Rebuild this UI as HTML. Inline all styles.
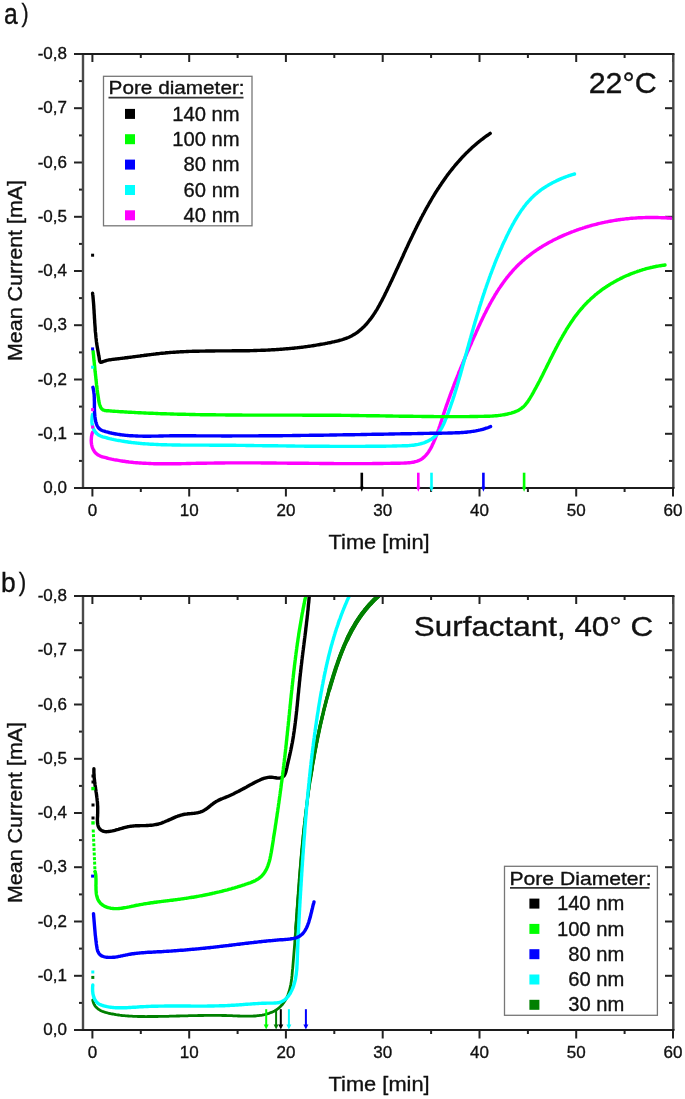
<!DOCTYPE html>
<html><head><meta charset="utf-8"><style>
html,body{margin:0;padding:0;background:#fff;}
svg{display:block;will-change:transform;}
text{font-family:"Liberation Sans",sans-serif;fill:#111;stroke:#111;stroke-width:0.35px;}
</style></head><body>
<svg width="685" height="1099" viewBox="0 0 685 1099">
<rect width="685" height="1099" fill="#fff"/>
<line x1="74" y1="488.0" x2="83" y2="488.0" stroke="#222" stroke-width="2"/>
<line x1="673" y1="488.0" x2="665" y2="488.0" stroke="#222" stroke-width="2"/>
<line x1="79" y1="460.9" x2="83" y2="460.9" stroke="#222" stroke-width="2"/>
<line x1="673" y1="460.9" x2="669" y2="460.9" stroke="#222" stroke-width="2"/>
<line x1="74" y1="433.8" x2="83" y2="433.8" stroke="#222" stroke-width="2"/>
<line x1="673" y1="433.8" x2="665" y2="433.8" stroke="#222" stroke-width="2"/>
<line x1="79" y1="406.6" x2="83" y2="406.6" stroke="#222" stroke-width="2"/>
<line x1="673" y1="406.6" x2="669" y2="406.6" stroke="#222" stroke-width="2"/>
<line x1="74" y1="379.5" x2="83" y2="379.5" stroke="#222" stroke-width="2"/>
<line x1="673" y1="379.5" x2="665" y2="379.5" stroke="#222" stroke-width="2"/>
<line x1="79" y1="352.4" x2="83" y2="352.4" stroke="#222" stroke-width="2"/>
<line x1="673" y1="352.4" x2="669" y2="352.4" stroke="#222" stroke-width="2"/>
<line x1="74" y1="325.2" x2="83" y2="325.2" stroke="#222" stroke-width="2"/>
<line x1="673" y1="325.2" x2="665" y2="325.2" stroke="#222" stroke-width="2"/>
<line x1="79" y1="298.1" x2="83" y2="298.1" stroke="#222" stroke-width="2"/>
<line x1="673" y1="298.1" x2="669" y2="298.1" stroke="#222" stroke-width="2"/>
<line x1="74" y1="271.0" x2="83" y2="271.0" stroke="#222" stroke-width="2"/>
<line x1="673" y1="271.0" x2="665" y2="271.0" stroke="#222" stroke-width="2"/>
<line x1="79" y1="243.9" x2="83" y2="243.9" stroke="#222" stroke-width="2"/>
<line x1="673" y1="243.9" x2="669" y2="243.9" stroke="#222" stroke-width="2"/>
<line x1="74" y1="216.8" x2="83" y2="216.8" stroke="#222" stroke-width="2"/>
<line x1="673" y1="216.8" x2="665" y2="216.8" stroke="#222" stroke-width="2"/>
<line x1="79" y1="189.6" x2="83" y2="189.6" stroke="#222" stroke-width="2"/>
<line x1="673" y1="189.6" x2="669" y2="189.6" stroke="#222" stroke-width="2"/>
<line x1="74" y1="162.5" x2="83" y2="162.5" stroke="#222" stroke-width="2"/>
<line x1="673" y1="162.5" x2="665" y2="162.5" stroke="#222" stroke-width="2"/>
<line x1="79" y1="135.4" x2="83" y2="135.4" stroke="#222" stroke-width="2"/>
<line x1="673" y1="135.4" x2="669" y2="135.4" stroke="#222" stroke-width="2"/>
<line x1="74" y1="108.2" x2="83" y2="108.2" stroke="#222" stroke-width="2"/>
<line x1="673" y1="108.2" x2="665" y2="108.2" stroke="#222" stroke-width="2"/>
<line x1="79" y1="81.1" x2="83" y2="81.1" stroke="#222" stroke-width="2"/>
<line x1="673" y1="81.1" x2="669" y2="81.1" stroke="#222" stroke-width="2"/>
<line x1="74" y1="54.0" x2="83" y2="54.0" stroke="#222" stroke-width="2"/>
<line x1="673" y1="54.0" x2="665" y2="54.0" stroke="#222" stroke-width="2"/>
<line x1="92.4" y1="488" x2="92.4" y2="496.5" stroke="#222" stroke-width="2"/>
<line x1="92.4" y1="54" x2="92.4" y2="62" stroke="#222" stroke-width="2"/>
<line x1="140.8" y1="488" x2="140.8" y2="492" stroke="#222" stroke-width="2"/>
<line x1="140.8" y1="54" x2="140.8" y2="58" stroke="#222" stroke-width="2"/>
<line x1="189.2" y1="488" x2="189.2" y2="496.5" stroke="#222" stroke-width="2"/>
<line x1="189.2" y1="54" x2="189.2" y2="62" stroke="#222" stroke-width="2"/>
<line x1="237.6" y1="488" x2="237.6" y2="492" stroke="#222" stroke-width="2"/>
<line x1="237.6" y1="54" x2="237.6" y2="58" stroke="#222" stroke-width="2"/>
<line x1="285.9" y1="488" x2="285.9" y2="496.5" stroke="#222" stroke-width="2"/>
<line x1="285.9" y1="54" x2="285.9" y2="62" stroke="#222" stroke-width="2"/>
<line x1="334.3" y1="488" x2="334.3" y2="492" stroke="#222" stroke-width="2"/>
<line x1="334.3" y1="54" x2="334.3" y2="58" stroke="#222" stroke-width="2"/>
<line x1="382.7" y1="488" x2="382.7" y2="496.5" stroke="#222" stroke-width="2"/>
<line x1="382.7" y1="54" x2="382.7" y2="62" stroke="#222" stroke-width="2"/>
<line x1="431.1" y1="488" x2="431.1" y2="492" stroke="#222" stroke-width="2"/>
<line x1="431.1" y1="54" x2="431.1" y2="58" stroke="#222" stroke-width="2"/>
<line x1="479.5" y1="488" x2="479.5" y2="496.5" stroke="#222" stroke-width="2"/>
<line x1="479.5" y1="54" x2="479.5" y2="62" stroke="#222" stroke-width="2"/>
<line x1="527.9" y1="488" x2="527.9" y2="492" stroke="#222" stroke-width="2"/>
<line x1="527.9" y1="54" x2="527.9" y2="58" stroke="#222" stroke-width="2"/>
<line x1="576.2" y1="488" x2="576.2" y2="496.5" stroke="#222" stroke-width="2"/>
<line x1="576.2" y1="54" x2="576.2" y2="62" stroke="#222" stroke-width="2"/>
<line x1="624.6" y1="488" x2="624.6" y2="492" stroke="#222" stroke-width="2"/>
<line x1="624.6" y1="54" x2="624.6" y2="58" stroke="#222" stroke-width="2"/>
<line x1="673.0" y1="488" x2="673.0" y2="496.5" stroke="#222" stroke-width="2"/>
<line x1="673.0" y1="54" x2="673.0" y2="62" stroke="#222" stroke-width="2"/>
<line x1="83" y1="54" x2="83" y2="488" stroke="#4a4a4a" stroke-width="2.4"/>
<line x1="673.3" y1="54" x2="673.3" y2="488" stroke="#4a4a4a" stroke-width="2.4"/>
<line x1="81.8" y1="54" x2="674.5" y2="54" stroke="#1c1c1c" stroke-width="2.1"/>
<line x1="81.8" y1="488" x2="674.5" y2="488" stroke="#1c1c1c" stroke-width="2.1"/>
<text x="67.0" y="493.0" font-size="17" text-anchor="end" >0,0</text>
<text x="67.0" y="438.8" font-size="17" text-anchor="end" >-0,1</text>
<text x="67.0" y="384.5" font-size="17" text-anchor="end" >-0,2</text>
<text x="67.0" y="330.2" font-size="17" text-anchor="end" >-0,3</text>
<text x="67.0" y="276.0" font-size="17" text-anchor="end" >-0,4</text>
<text x="67.0" y="221.8" font-size="17" text-anchor="end" >-0,5</text>
<text x="67.0" y="167.5" font-size="17" text-anchor="end" >-0,6</text>
<text x="67.0" y="113.2" font-size="17" text-anchor="end" >-0,7</text>
<text x="67.0" y="59.0" font-size="17" text-anchor="end" >-0,8</text>
<text x="92.4" y="515.6" font-size="17" text-anchor="middle" >0</text>
<text x="189.2" y="515.6" font-size="17" text-anchor="middle" >10</text>
<text x="285.9" y="515.6" font-size="17" text-anchor="middle" >20</text>
<text x="382.7" y="515.6" font-size="17" text-anchor="middle" >30</text>
<text x="479.5" y="515.6" font-size="17" text-anchor="middle" >40</text>
<text x="576.2" y="515.6" font-size="17" text-anchor="middle" >50</text>
<text x="673.0" y="515.6" font-size="17" text-anchor="middle" >60</text>
<text x="328.6" y="549.0" font-size="20.5" text-anchor="start" textLength="101" lengthAdjust="spacingAndGlyphs" >Time [min]</text>
<text transform="translate(22.3,270.5) rotate(-90)" text-anchor="middle" font-size="20.5" textLength="181" lengthAdjust="spacingAndGlyphs">Mean Current [mA]</text>
<clipPath id="ca"><rect x="84" y="55" width="588" height="432"/></clipPath>
<g clip-path="url(#ca)">
<path d="M92.6,432.2 L92.1,433.6 L91.8,435.1 L91.5,436.5 L91.4,437.9 L91.3,439.3 L91.2,440.6 L91.3,442.0 L91.4,443.3 L91.6,444.6 L91.9,445.8 L92.2,447.0 L92.6,448.1 L93.1,449.2 L93.6,450.2 L94.2,451.2 L94.9,452.1 L95.6,453.0 L96.4,453.7 L97.3,454.4 L98.2,455.1 L99.2,455.6 L100.2,456.1 L101.3,456.5 L102.4,456.8 L103.5,457.1 L104.6,457.4 L105.8,457.7 L106.9,458.0 L108.0,458.3 L109.2,458.6 L110.3,458.8 L111.5,459.1 L112.6,459.3 L113.8,459.6 L114.9,459.8 L116.1,460.0 L117.2,460.2 L118.4,460.4 L119.6,460.6 L120.7,460.8 L121.9,461.0 L123.1,461.2 L124.2,461.3 L125.4,461.5 L126.6,461.7 L127.7,461.8 L128.9,462.0 L130.1,462.1 L131.3,462.2 L132.5,462.3 L133.6,462.5 L134.8,462.6 L136.0,462.7 L137.2,462.8 L138.4,462.9 L139.6,463.0 L140.8,463.0 L142.0,463.1 L143.2,463.2 L144.4,463.3 L145.6,463.3 L146.8,463.4 L148.0,463.4 L149.2,463.5 L150.4,463.5 L151.6,463.6 L152.8,463.6 L154.0,463.7 L155.2,463.7 L156.4,463.7 L157.6,463.7 L158.8,463.8 L160.0,463.8 L161.2,463.8 L162.4,463.8 L163.7,463.8 L164.9,463.8 L166.1,463.8 L167.3,463.8 L168.5,463.8 L169.7,463.8 L170.9,463.8 L172.2,463.8 L173.4,463.8 L174.6,463.8 L175.8,463.7 L177.0,463.7 L178.2,463.7 L179.5,463.7 L180.7,463.7 L181.9,463.6 L183.1,463.6 L184.3,463.6 L185.5,463.6 L186.8,463.5 L188.0,463.5 L189.2,463.5 L190.4,463.5 L191.6,463.4 L192.8,463.4 L194.1,463.4 L195.3,463.4 L196.5,463.3 L197.7,463.3 L198.9,463.3 L200.1,463.3 L201.4,463.2 L202.6,463.2 L203.8,463.2 L205.0,463.2 L206.2,463.2 L207.4,463.1 L208.6,463.1 L209.8,463.1 L211.0,463.1 L212.2,463.1 L213.5,463.1 L214.7,463.0 L215.9,463.0 L217.1,463.0 L218.3,463.0 L219.5,463.0 L220.7,463.0 L221.9,463.0 L223.1,463.0 L224.3,463.0 L225.5,462.9 L226.7,462.9 L227.9,462.9 L229.1,462.9 L230.3,462.9 L231.5,462.9 L232.7,462.9 L233.9,462.9 L235.1,462.9 L236.3,462.9 L237.5,462.9 L238.7,462.9 L239.9,462.9 L241.1,462.9 L242.3,462.9 L243.5,462.9 L244.7,462.9 L245.9,462.9 L247.1,462.9 L248.3,462.9 L249.5,462.9 L250.7,462.9 L251.9,462.9 L253.1,462.9 L254.3,462.9 L255.5,462.9 L256.7,462.9 L257.9,462.9 L259.1,462.9 L260.3,462.9 L261.5,463.0 L262.7,463.0 L263.9,463.0 L265.1,463.0 L266.3,463.0 L267.5,463.0 L268.7,463.0 L269.9,463.0 L271.1,463.0 L272.3,463.0 L273.5,463.0 L274.6,463.0 L275.8,463.0 L277.0,463.1 L278.2,463.1 L279.4,463.1 L280.6,463.1 L281.8,463.1 L283.0,463.1 L284.2,463.1 L285.4,463.1 L286.6,463.1 L287.8,463.2 L289.0,463.2 L290.2,463.2 L291.4,463.2 L292.6,463.2 L293.8,463.2 L294.9,463.2 L296.1,463.2 L297.3,463.2 L298.5,463.3 L299.7,463.3 L300.9,463.3 L302.1,463.3 L303.3,463.3 L304.5,463.3 L305.7,463.3 L306.9,463.3 L308.1,463.3 L309.3,463.4 L310.5,463.4 L311.7,463.4 L312.9,463.4 L314.1,463.4 L315.3,463.4 L316.5,463.4 L317.7,463.4 L318.8,463.4 L320.0,463.5 L321.2,463.5 L322.4,463.5 L323.6,463.5 L324.8,463.5 L326.0,463.5 L327.2,463.5 L328.4,463.5 L329.6,463.5 L330.8,463.5 L332.0,463.5 L333.2,463.5 L334.4,463.6 L335.6,463.6 L336.8,463.6 L338.0,463.6 L339.2,463.6 L340.4,463.6 L341.6,463.6 L342.8,463.6 L344.0,463.6 L345.2,463.6 L346.4,463.6 L347.6,463.6 L348.8,463.6 L350.0,463.6 L351.2,463.6 L352.4,463.6 L353.6,463.6 L354.9,463.6 L356.1,463.6 L357.3,463.6 L358.5,463.6 L359.7,463.6 L360.9,463.6 L362.1,463.6 L363.3,463.6 L364.5,463.6 L365.7,463.6 L366.9,463.6 L368.1,463.6 L369.3,463.6 L370.6,463.6 L371.8,463.6 L373.0,463.5 L374.2,463.5 L375.4,463.5 L376.6,463.5 L377.8,463.5 L379.0,463.5 L380.3,463.5 L381.5,463.5 L382.7,463.5 L383.9,463.4 L385.1,463.4 L386.3,463.4 L387.6,463.4 L388.8,463.4 L390.0,463.4 L391.2,463.3 L392.4,463.3 L393.7,463.3 L394.9,463.3 L396.1,463.2 L397.3,463.2 L398.6,463.2 L399.8,463.2 L401.0,463.1 L402.2,463.1 L403.5,463.1 L404.7,463.0 L405.9,463.0 L407.1,462.9 L408.3,462.8 L409.5,462.7 L410.7,462.6 L411.8,462.4 L413.0,462.2 L414.1,462.0 L415.2,461.7 L416.3,461.4 L417.3,461.1 L418.4,460.7 L419.4,460.2 L420.4,459.7 L421.3,459.2 L422.3,458.6 L423.1,457.9 L424.0,457.2 L424.8,456.4 L425.6,455.6 L426.4,454.7 L427.1,453.8 L427.9,452.9 L428.6,451.9 L429.2,450.8 L429.9,449.8 L430.5,448.7 L431.1,447.6 L431.7,446.5 L432.2,445.3 L432.8,444.1 L433.3,443.0 L433.8,441.8 L434.3,440.6 L434.8,439.5 L435.3,438.3 L435.8,437.1 L436.2,435.9 L436.7,434.8 L437.1,433.6 L437.5,432.5 L437.9,431.3 L438.3,430.1 L438.7,429.0 L439.1,427.8 L439.5,426.7 L439.9,425.6 L440.3,424.4 L440.7,423.3 L441.0,422.1 L441.4,421.0 L441.8,419.9 L442.1,418.7 L442.5,417.6 L442.9,416.5 L443.2,415.3 L443.6,414.2 L444.0,413.1 L444.3,412.0 L444.7,410.8 L445.1,409.7 L445.5,408.6 L445.8,407.5 L446.2,406.3 L446.6,405.2 L447.0,404.1 L447.4,403.0 L447.8,401.9 L448.2,400.7 L448.6,399.6 L449.0,398.5 L449.4,397.4 L449.8,396.3 L450.2,395.2 L450.6,394.0 L451.0,392.9 L451.4,391.8 L451.8,390.7 L452.3,389.6 L452.7,388.5 L453.1,387.4 L453.5,386.3 L453.9,385.1 L454.4,384.0 L454.8,382.9 L455.2,381.8 L455.7,380.7 L456.1,379.6 L456.5,378.5 L457.0,377.4 L457.4,376.3 L457.9,375.2 L458.3,374.1 L458.7,372.9 L459.2,371.8 L459.6,370.7 L460.1,369.6 L460.5,368.5 L461.0,367.4 L461.5,366.3 L461.9,365.2 L462.4,364.1 L462.8,363.0 L463.3,361.9 L463.8,360.8 L464.2,359.7 L464.7,358.6 L465.2,357.5 L465.6,356.3 L466.1,355.2 L466.6,354.1 L467.0,353.0 L467.5,351.9 L468.0,350.8 L468.5,349.7 L469.0,348.6 L469.4,347.5 L469.9,346.4 L470.4,345.3 L470.9,344.2 L471.4,343.1 L471.8,341.9 L472.3,340.8 L472.8,339.7 L473.3,338.6 L473.8,337.5 L474.3,336.4 L474.8,335.3 L475.3,334.2 L475.8,333.1 L476.3,331.9 L476.8,330.8 L477.3,329.7 L477.8,328.6 L478.3,327.5 L478.8,326.4 L479.3,325.3 L479.8,324.2 L480.3,323.1 L480.8,322.0 L481.4,320.9 L481.9,319.8 L482.4,318.7 L482.9,317.6 L483.5,316.5 L484.0,315.4 L484.5,314.3 L485.1,313.2 L485.6,312.2 L486.2,311.1 L486.7,310.0 L487.3,308.9 L487.8,307.8 L488.4,306.8 L489.0,305.7 L489.5,304.6 L490.1,303.6 L490.7,302.5 L491.3,301.5 L491.9,300.4 L492.5,299.4 L493.1,298.3 L493.7,297.3 L494.3,296.3 L494.9,295.2 L495.5,294.2 L496.2,293.2 L496.8,292.2 L497.4,291.1 L498.1,290.1 L498.7,289.1 L499.4,288.1 L500.1,287.1 L500.7,286.2 L501.4,285.2 L502.1,284.2 L502.8,283.2 L503.5,282.3 L504.2,281.3 L504.9,280.4 L505.6,279.4 L506.3,278.5 L507.0,277.5 L507.8,276.6 L508.5,275.7 L509.3,274.8 L510.0,273.9 L510.8,273.0 L511.6,272.1 L512.3,271.2 L513.1,270.3 L513.9,269.4 L514.7,268.6 L515.6,267.7 L516.4,266.8 L517.2,266.0 L518.0,265.2 L518.9,264.3 L519.8,263.5 L520.6,262.7 L521.5,261.9 L522.4,261.1 L523.3,260.3 L524.2,259.6 L525.1,258.8 L526.0,258.0 L526.9,257.3 L527.8,256.5 L528.8,255.8 L529.7,255.1 L530.7,254.3 L531.6,253.6 L532.6,252.9 L533.6,252.2 L534.5,251.5 L535.5,250.8 L536.5,250.1 L537.5,249.5 L538.5,248.8 L539.5,248.2 L540.5,247.5 L541.6,246.9 L542.6,246.2 L543.6,245.6 L544.7,245.0 L545.7,244.4 L546.8,243.8 L547.8,243.2 L548.9,242.6 L549.9,242.0 L551.0,241.5 L552.1,240.9 L553.1,240.3 L554.2,239.8 L555.3,239.2 L556.4,238.7 L557.5,238.2 L558.6,237.6 L559.7,237.1 L560.8,236.6 L561.9,236.1 L563.0,235.6 L564.1,235.1 L565.2,234.7 L566.3,234.2 L567.4,233.7 L568.6,233.3 L569.7,232.8 L570.8,232.4 L571.9,231.9 L573.1,231.5 L574.2,231.1 L575.3,230.7 L576.5,230.2 L577.6,229.8 L578.8,229.4 L579.9,229.0 L581.0,228.7 L582.2,228.3 L583.3,227.9 L584.5,227.6 L585.6,227.2 L586.8,226.8 L587.9,226.5 L589.1,226.2 L590.2,225.8 L591.4,225.5 L592.5,225.2 L593.7,224.9 L594.8,224.6 L596.0,224.3 L597.2,224.0 L598.3,223.7 L599.5,223.4 L600.6,223.2 L601.8,222.9 L603.0,222.6 L604.1,222.4 L605.3,222.1 L606.5,221.9 L607.7,221.7 L608.8,221.4 L610.0,221.2 L611.2,221.0 L612.3,220.8 L613.5,220.6 L614.7,220.4 L615.9,220.2 L617.1,220.0 L618.2,219.8 L619.4,219.7 L620.6,219.5 L621.8,219.4 L623.0,219.2 L624.2,219.1 L625.4,218.9 L626.5,218.8 L627.7,218.7 L628.9,218.6 L630.1,218.4 L631.3,218.3 L632.5,218.2 L633.7,218.1 L634.9,218.1 L636.1,218.0 L637.3,217.9 L638.5,217.8 L639.7,217.8 L640.9,217.7 L642.1,217.7 L643.3,217.6 L644.5,217.6 L645.7,217.5 L646.9,217.5 L648.1,217.5 L649.3,217.5 L650.5,217.5 L651.7,217.5 L652.9,217.5 L654.1,217.5 L655.3,217.5 L656.5,217.5 L657.7,217.5 L659.0,217.6 L660.2,217.6 L661.4,217.7 L662.6,217.7 L663.8,217.8 L665.0,217.8 L666.2,217.9 L667.4,218.0 L668.7,218.1 L669.9,218.1 L671.1,218.2" fill="none" stroke="#ff00ff" stroke-width="3.4" stroke-linejoin="round" stroke-linecap="round"/>
<path d="M92.6,414.4 L92.3,415.9 L92.1,417.3 L92.0,418.8 L91.9,420.2 L91.9,421.6 L92.0,422.9 L92.2,424.2 L92.4,425.5 L92.8,426.7 L93.1,427.9 L93.6,429.0 L94.1,430.1 L94.7,431.1 L95.4,432.0 L96.1,432.9 L96.9,433.6 L97.7,434.4 L98.6,435.0 L99.6,435.5 L100.6,436.0 L101.6,436.4 L102.7,436.8 L103.8,437.1 L105.0,437.4 L106.1,437.7 L107.2,438.0 L108.3,438.3 L109.5,438.6 L110.6,438.8 L111.8,439.1 L112.9,439.3 L114.1,439.6 L115.2,439.8 L116.4,440.1 L117.5,440.3 L118.7,440.5 L119.8,440.7 L121.0,440.9 L122.1,441.1 L123.3,441.3 L124.5,441.5 L125.6,441.7 L126.8,441.8 L128.0,442.0 L129.2,442.2 L130.3,442.3 L131.5,442.5 L132.7,442.6 L133.9,442.7 L135.1,442.9 L136.2,443.0 L137.4,443.1 L138.6,443.2 L139.8,443.4 L141.0,443.5 L142.2,443.6 L143.4,443.7 L144.6,443.8 L145.8,443.9 L147.0,443.9 L148.2,444.0 L149.4,444.1 L150.6,444.2 L151.8,444.2 L153.0,444.3 L154.2,444.4 L155.4,444.4 L156.6,444.5 L157.8,444.5 L159.0,444.6 L160.2,444.6 L161.4,444.7 L162.6,444.7 L163.9,444.8 L165.1,444.8 L166.3,444.8 L167.5,444.9 L168.7,444.9 L169.9,444.9 L171.1,444.9 L172.4,445.0 L173.6,445.0 L174.8,445.0 L176.0,445.0 L177.2,445.0 L178.4,445.0 L179.7,445.0 L180.9,445.1 L182.1,445.1 L183.3,445.1 L184.5,445.1 L185.7,445.1 L187.0,445.1 L188.2,445.1 L189.4,445.1 L190.6,445.1 L191.8,445.1 L193.0,445.1 L194.3,445.1 L195.5,445.1 L196.7,445.1 L197.9,445.1 L199.1,445.1 L200.3,445.1 L201.6,445.1 L202.8,445.1 L204.0,445.1 L205.2,445.1 L206.4,445.1 L207.6,445.1 L208.8,445.1 L210.1,445.2 L211.3,445.2 L212.5,445.2 L213.7,445.2 L214.9,445.2 L216.1,445.2 L217.3,445.2 L218.5,445.2 L219.7,445.2 L220.9,445.2 L222.2,445.2 L223.4,445.2 L224.6,445.3 L225.8,445.3 L227.0,445.3 L228.2,445.3 L229.4,445.3 L230.6,445.3 L231.8,445.3 L233.0,445.3 L234.2,445.3 L235.4,445.3 L236.6,445.4 L237.8,445.4 L239.0,445.4 L240.2,445.4 L241.4,445.4 L242.6,445.4 L243.8,445.4 L245.0,445.4 L246.2,445.5 L247.4,445.5 L248.6,445.5 L249.8,445.5 L251.0,445.5 L252.2,445.5 L253.4,445.5 L254.6,445.6 L255.8,445.6 L257.0,445.6 L258.2,445.6 L259.4,445.6 L260.6,445.6 L261.8,445.6 L263.0,445.7 L264.2,445.7 L265.4,445.7 L266.6,445.7 L267.8,445.7 L269.0,445.7 L270.2,445.7 L271.4,445.8 L272.6,445.8 L273.8,445.8 L275.0,445.8 L276.2,445.8 L277.4,445.8 L278.6,445.9 L279.8,445.9 L281.0,445.9 L282.2,445.9 L283.4,445.9 L284.6,445.9 L285.8,445.9 L287.0,446.0 L288.2,446.0 L289.4,446.0 L290.6,446.0 L291.8,446.0 L293.0,446.0 L294.2,446.0 L295.4,446.1 L296.6,446.1 L297.8,446.1 L299.0,446.1 L300.2,446.1 L301.4,446.1 L302.5,446.1 L303.7,446.1 L304.9,446.2 L306.1,446.2 L307.3,446.2 L308.5,446.2 L309.7,446.2 L310.9,446.2 L312.1,446.2 L313.3,446.2 L314.5,446.2 L315.7,446.3 L316.9,446.3 L318.1,446.3 L319.3,446.3 L320.5,446.3 L321.7,446.3 L322.9,446.3 L324.1,446.3 L325.3,446.3 L326.5,446.3 L327.7,446.3 L328.9,446.3 L330.1,446.4 L331.3,446.4 L332.5,446.4 L333.7,446.4 L334.9,446.4 L336.1,446.4 L337.3,446.4 L338.5,446.4 L339.7,446.4 L340.9,446.4 L342.1,446.4 L343.3,446.4 L344.5,446.4 L345.7,446.4 L346.9,446.4 L348.1,446.4 L349.3,446.4 L350.5,446.4 L351.7,446.4 L352.9,446.4 L354.1,446.4 L355.3,446.4 L356.5,446.4 L357.7,446.4 L358.9,446.4 L360.1,446.4 L361.3,446.4 L362.5,446.4 L363.7,446.4 L364.9,446.4 L366.1,446.3 L367.4,446.3 L368.6,446.3 L369.8,446.3 L371.0,446.3 L372.2,446.3 L373.4,446.3 L374.6,446.3 L375.8,446.3 L377.0,446.3 L378.2,446.2 L379.4,446.2 L380.6,446.2 L381.9,446.2 L383.1,446.2 L384.3,446.2 L385.5,446.2 L386.7,446.1 L387.9,446.1 L389.1,446.1 L390.3,446.1 L391.6,446.1 L392.8,446.0 L394.0,446.0 L395.2,446.0 L396.4,446.0 L397.6,445.9 L398.9,445.9 L400.1,445.9 L401.3,445.9 L402.5,445.8 L403.7,445.8 L404.9,445.8 L406.2,445.7 L407.4,445.7 L408.6,445.6 L409.8,445.5 L411.0,445.4 L412.2,445.3 L413.4,445.2 L414.6,445.0 L415.8,444.8 L416.9,444.6 L418.1,444.4 L419.3,444.1 L420.4,443.8 L421.6,443.5 L422.7,443.2 L423.9,442.8 L425.0,442.4 L426.1,441.9 L427.2,441.4 L428.2,440.9 L429.3,440.4 L430.3,439.8 L431.3,439.2 L432.3,438.5 L433.2,437.8 L434.1,437.1 L435.0,436.4 L435.9,435.6 L436.7,434.8 L437.5,433.9 L438.3,433.0 L439.0,432.1 L439.7,431.1 L440.3,430.1 L441.0,429.1 L441.6,428.1 L442.2,427.0 L442.7,425.9 L443.2,424.9 L443.8,423.7 L444.3,422.6 L444.8,421.5 L445.2,420.4 L445.7,419.2 L446.2,418.1 L446.6,416.9 L447.1,415.8 L447.5,414.6 L447.9,413.5 L448.4,412.3 L448.8,411.2 L449.2,410.0 L449.6,408.9 L450.0,407.8 L450.4,406.6 L450.8,405.5 L451.2,404.3 L451.6,403.2 L452.0,402.0 L452.4,400.9 L452.8,399.7 L453.1,398.6 L453.5,397.4 L453.9,396.3 L454.3,395.1 L454.6,394.0 L455.0,392.9 L455.3,391.7 L455.7,390.6 L456.0,389.4 L456.4,388.3 L456.7,387.1 L457.1,386.0 L457.4,384.8 L457.7,383.7 L458.1,382.5 L458.4,381.4 L458.7,380.2 L459.1,379.1 L459.4,377.9 L459.7,376.8 L460.1,375.6 L460.4,374.5 L460.7,373.3 L461.0,372.2 L461.3,371.0 L461.7,369.9 L462.0,368.7 L462.3,367.6 L462.6,366.4 L462.9,365.3 L463.3,364.1 L463.6,362.9 L463.9,361.8 L464.2,360.6 L464.5,359.5 L464.9,358.3 L465.2,357.2 L465.5,356.0 L465.8,354.9 L466.1,353.7 L466.5,352.5 L466.8,351.4 L467.1,350.2 L467.4,349.1 L467.7,347.9 L468.1,346.8 L468.4,345.6 L468.7,344.4 L469.0,343.3 L469.4,342.1 L469.7,341.0 L470.0,339.8 L470.3,338.6 L470.7,337.5 L471.0,336.3 L471.3,335.2 L471.6,334.0 L472.0,332.9 L472.3,331.7 L472.6,330.5 L473.0,329.4 L473.3,328.2 L473.6,327.1 L474.0,325.9 L474.3,324.8 L474.6,323.6 L475.0,322.4 L475.3,321.3 L475.7,320.1 L476.0,319.0 L476.3,317.8 L476.7,316.7 L477.0,315.5 L477.4,314.4 L477.7,313.2 L478.1,312.0 L478.4,310.9 L478.8,309.7 L479.1,308.6 L479.5,307.4 L479.8,306.3 L480.2,305.1 L480.6,304.0 L480.9,302.8 L481.3,301.7 L481.7,300.5 L482.0,299.4 L482.4,298.2 L482.8,297.1 L483.1,296.0 L483.5,294.8 L483.9,293.7 L484.3,292.5 L484.7,291.4 L485.0,290.2 L485.4,289.1 L485.8,288.0 L486.2,286.8 L486.6,285.7 L487.0,284.5 L487.4,283.4 L487.8,282.3 L488.2,281.1 L488.6,280.0 L489.0,278.9 L489.4,277.7 L489.8,276.6 L490.2,275.5 L490.6,274.3 L491.1,273.2 L491.5,272.1 L491.9,271.0 L492.3,269.8 L492.8,268.7 L493.2,267.6 L493.6,266.5 L494.1,265.3 L494.5,264.2 L494.9,263.1 L495.4,262.0 L495.8,260.9 L496.3,259.8 L496.7,258.6 L497.2,257.5 L497.7,256.4 L498.1,255.3 L498.6,254.2 L499.1,253.1 L499.5,252.0 L500.0,250.9 L500.5,249.8 L501.0,248.7 L501.5,247.6 L502.0,246.5 L502.4,245.4 L502.9,244.3 L503.4,243.2 L503.9,242.1 L504.5,241.0 L505.0,239.9 L505.5,238.9 L506.0,237.8 L506.5,236.7 L507.0,235.6 L507.6,234.5 L508.1,233.4 L508.6,232.4 L509.2,231.3 L509.7,230.2 L510.3,229.2 L510.8,228.1 L511.4,227.0 L511.9,226.0 L512.5,224.9 L513.1,223.8 L513.7,222.8 L514.3,221.7 L514.9,220.7 L515.5,219.7 L516.1,218.6 L516.7,217.6 L517.3,216.6 L517.9,215.6 L518.6,214.6 L519.2,213.6 L519.9,212.6 L520.5,211.6 L521.2,210.6 L521.9,209.6 L522.6,208.7 L523.3,207.7 L524.0,206.7 L524.8,205.8 L525.5,204.9 L526.2,203.9 L527.0,203.0 L527.8,202.1 L528.6,201.2 L529.4,200.4 L530.2,199.5 L531.0,198.6 L531.8,197.8 L532.7,196.9 L533.6,196.1 L534.4,195.3 L535.3,194.5 L536.3,193.7 L537.2,192.9 L538.1,192.2 L539.1,191.4 L540.0,190.7 L541.0,189.9 L542.0,189.2 L543.0,188.5 L544.0,187.8 L545.1,187.2 L546.1,186.5 L547.1,185.9 L548.2,185.2 L549.3,184.6 L550.3,184.0 L551.4,183.4 L552.5,182.8 L553.6,182.3 L554.7,181.7 L555.8,181.2 L556.9,180.6 L558.0,180.1 L559.1,179.6 L560.2,179.1 L561.3,178.6 L562.4,178.2 L563.5,177.7 L564.6,177.3 L565.7,176.9 L566.8,176.5 L567.9,176.1 L569.0,175.7 L570.1,175.3 L571.2,175.0 L572.3,174.6 L573.4,174.3 L574.5,174.0" fill="none" stroke="#00ffff" stroke-width="3.4" stroke-linejoin="round" stroke-linecap="round"/>
<path d="M92.9,387.3 L93.2,388.4 L93.4,389.5 L93.6,390.7 L93.8,391.8 L93.9,393.0 L94.1,394.1 L94.2,395.3 L94.2,396.5 L94.3,397.7 L94.3,398.9 L94.3,400.2 L94.4,401.4 L94.4,402.6 L94.4,403.9 L94.4,405.1 L94.4,406.4 L94.4,407.6 L94.4,408.9 L94.5,410.2 L94.5,411.4 L94.6,412.7 L94.7,413.9 L94.8,415.2 L94.9,416.4 L95.1,417.7 L95.2,418.9 L95.5,420.2 L95.7,421.4 L96.0,422.6 L96.4,423.8 L96.8,424.9 L97.3,426.0 L97.9,427.0 L98.5,427.9 L99.3,428.7 L100.2,429.4 L101.1,430.0 L102.2,430.5 L103.2,430.9 L104.4,431.2 L105.5,431.6 L106.6,431.9 L107.8,432.2 L108.9,432.5 L110.1,432.8 L111.2,433.0 L112.4,433.3 L113.5,433.5 L114.7,433.8 L115.9,434.0 L117.0,434.2 L118.2,434.4 L119.4,434.5 L120.6,434.7 L121.7,434.9 L122.9,435.0 L124.1,435.1 L125.3,435.3 L126.5,435.4 L127.7,435.5 L128.9,435.6 L130.1,435.7 L131.3,435.7 L132.5,435.8 L133.7,435.9 L134.9,435.9 L136.1,436.0 L137.3,436.0 L138.5,436.1 L139.7,436.1 L140.9,436.1 L142.1,436.1 L143.3,436.2 L144.5,436.2 L145.8,436.2 L147.0,436.2 L148.2,436.2 L149.4,436.2 L150.6,436.2 L151.8,436.1 L153.1,436.1 L154.3,436.1 L155.5,436.1 L156.7,436.1 L157.9,436.1 L159.2,436.0 L160.4,436.0 L161.6,436.0 L162.8,436.0 L164.0,435.9 L165.3,435.9 L166.5,435.9 L167.7,435.9 L168.9,435.9 L170.1,435.8 L171.3,435.8 L172.5,435.8 L173.8,435.8 L175.0,435.8 L176.2,435.8 L177.4,435.8 L178.6,435.8 L179.8,435.8 L181.0,435.8 L182.2,435.8 L183.4,435.8 L184.6,435.8 L185.8,435.8 L187.0,435.8 L188.3,435.8 L189.5,435.8 L190.7,435.8 L191.9,435.8 L193.1,435.8 L194.3,435.8 L195.5,435.8 L196.7,435.9 L197.9,435.9 L199.1,435.9 L200.3,435.9 L201.5,435.9 L202.7,435.9 L203.9,435.9 L205.1,435.9 L206.3,435.9 L207.5,435.9 L208.7,435.9 L209.9,435.9 L211.1,435.9 L212.3,435.9 L213.5,435.9 L214.7,435.9 L215.9,435.9 L217.1,435.9 L218.3,435.9 L219.5,435.9 L220.7,435.9 L221.9,436.0 L223.1,436.0 L224.3,436.0 L225.5,436.0 L226.7,436.0 L227.9,436.0 L229.1,436.0 L230.3,436.0 L231.5,436.0 L232.7,435.9 L234.0,435.9 L235.2,435.9 L236.4,435.9 L237.6,435.9 L238.8,435.9 L240.0,435.9 L241.2,435.9 L242.4,435.9 L243.6,435.9 L244.8,435.9 L246.0,435.9 L247.2,435.9 L248.4,435.9 L249.6,435.9 L250.8,435.9 L252.0,435.9 L253.2,435.9 L254.4,435.9 L255.6,435.9 L256.8,435.9 L258.0,435.9 L259.2,435.8 L260.4,435.8 L261.6,435.8 L262.8,435.8 L264.0,435.8 L265.2,435.8 L266.4,435.8 L267.6,435.8 L268.8,435.8 L270.0,435.8 L271.2,435.8 L272.4,435.7 L273.6,435.7 L274.8,435.7 L276.0,435.7 L277.2,435.7 L278.4,435.7 L279.6,435.7 L280.8,435.7 L282.0,435.7 L283.2,435.6 L284.4,435.6 L285.6,435.6 L286.8,435.6 L288.0,435.6 L289.3,435.6 L290.5,435.6 L291.7,435.6 L292.9,435.5 L294.1,435.5 L295.3,435.5 L296.5,435.5 L297.7,435.5 L298.9,435.5 L300.1,435.5 L301.3,435.4 L302.5,435.4 L303.7,435.4 L304.9,435.4 L306.1,435.4 L307.3,435.4 L308.5,435.4 L309.7,435.3 L310.9,435.3 L312.1,435.3 L313.3,435.3 L314.5,435.3 L315.7,435.3 L316.9,435.2 L318.1,435.2 L319.3,435.2 L320.5,435.2 L321.7,435.2 L322.9,435.2 L324.1,435.1 L325.3,435.1 L326.5,435.1 L327.7,435.1 L328.9,435.1 L330.1,435.0 L331.3,435.0 L332.6,435.0 L333.8,435.0 L335.0,435.0 L336.2,435.0 L337.4,434.9 L338.6,434.9 L339.8,434.9 L341.0,434.9 L342.2,434.9 L343.4,434.8 L344.6,434.8 L345.8,434.8 L347.0,434.8 L348.2,434.8 L349.4,434.7 L350.6,434.7 L351.8,434.7 L353.0,434.7 L354.2,434.7 L355.4,434.6 L356.6,434.6 L357.8,434.6 L359.0,434.6 L360.2,434.6 L361.4,434.5 L362.6,434.5 L363.9,434.5 L365.1,434.5 L366.3,434.5 L367.5,434.4 L368.7,434.4 L369.9,434.4 L371.1,434.4 L372.3,434.3 L373.5,434.3 L374.7,434.3 L375.9,434.3 L377.1,434.3 L378.3,434.2 L379.5,434.2 L380.7,434.2 L381.9,434.2 L383.1,434.2 L384.3,434.1 L385.5,434.1 L386.7,434.1 L388.0,434.1 L389.2,434.0 L390.4,434.0 L391.6,434.0 L392.8,434.0 L394.0,434.0 L395.2,433.9 L396.4,433.9 L397.6,433.9 L398.8,433.9 L400.0,433.9 L401.2,433.8 L402.4,433.8 L403.6,433.8 L404.8,433.8 L406.0,433.8 L407.3,433.7 L408.5,433.7 L409.7,433.7 L410.9,433.7 L412.1,433.6 L413.3,433.6 L414.5,433.6 L415.7,433.6 L416.9,433.6 L418.1,433.5 L419.3,433.5 L420.5,433.5 L421.7,433.5 L422.9,433.5 L424.2,433.4 L425.4,433.4 L426.6,433.4 L427.8,433.4 L429.0,433.4 L430.2,433.3 L431.4,433.3 L432.6,433.3 L433.8,433.3 L435.0,433.3 L436.2,433.2 L437.4,433.2 L438.7,433.2 L439.9,433.2 L441.1,433.2 L442.3,433.1 L443.5,433.1 L444.7,433.1 L445.9,433.1 L447.1,433.1 L448.3,433.0 L449.5,433.0 L450.7,433.0 L451.9,433.0 L453.2,432.9 L454.4,432.9 L455.6,432.8 L456.8,432.8 L458.0,432.7 L459.2,432.7 L460.4,432.6 L461.6,432.5 L462.8,432.5 L464.0,432.4 L465.2,432.3 L466.3,432.2 L467.5,432.0 L468.7,431.9 L469.9,431.8 L471.1,431.6 L472.3,431.4 L473.4,431.3 L474.6,431.1 L475.8,430.9 L476.9,430.6 L478.1,430.4 L479.3,430.1 L480.4,429.9 L481.6,429.6 L482.7,429.3 L483.9,429.0 L485.0,428.6 L486.1,428.2 L487.3,427.9 L488.4,427.5 L489.5,427.0 L490.6,426.6" fill="none" stroke="#0000ff" stroke-width="3.4" stroke-linejoin="round" stroke-linecap="round"/>
<path d="M93.1,351.2 L93.2,352.4 L93.3,353.6 L93.5,354.8 L93.6,356.0 L93.7,357.2 L93.8,358.4 L93.9,359.6 L94.0,360.8 L94.2,362.0 L94.3,363.2 L94.4,364.4 L94.5,365.6 L94.7,366.8 L94.8,368.0 L94.9,369.2 L95.0,370.4 L95.1,371.6 L95.3,372.7 L95.4,373.9 L95.5,375.1 L95.7,376.3 L95.8,377.5 L95.9,378.6 L96.0,379.8 L96.2,381.0 L96.3,382.1 L96.4,383.3 L96.5,384.5 L96.7,385.7 L96.8,386.8 L97.0,388.0 L97.1,389.2 L97.3,390.4 L97.4,391.6 L97.6,392.9 L97.8,394.2 L98.0,395.4 L98.2,396.8 L98.4,398.1 L98.6,399.5 L98.8,400.9 L99.1,402.3 L99.4,403.7 L99.8,405.0 L100.2,406.2 L100.7,407.4 L101.3,408.4 L102.1,409.2 L102.9,409.8 L103.9,410.2 L105.0,410.5 L106.1,410.7 L107.3,410.8 L108.5,410.8 L109.7,410.9 L110.9,411.0 L112.1,411.1 L113.3,411.2 L114.5,411.3 L115.7,411.4 L116.9,411.4 L118.1,411.5 L119.2,411.6 L120.4,411.7 L121.6,411.7 L122.8,411.8 L124.0,411.9 L125.2,412.0 L126.4,412.0 L127.6,412.1 L128.8,412.2 L130.0,412.2 L131.2,412.3 L132.4,412.4 L133.6,412.4 L134.8,412.5 L136.0,412.6 L137.2,412.6 L138.4,412.7 L139.6,412.7 L140.7,412.8 L141.9,412.9 L143.1,412.9 L144.3,413.0 L145.5,413.0 L146.7,413.1 L147.9,413.1 L149.1,413.2 L150.3,413.2 L151.5,413.3 L152.7,413.3 L153.9,413.4 L155.1,413.4 L156.3,413.5 L157.5,413.5 L158.7,413.6 L159.9,413.6 L161.1,413.7 L162.3,413.7 L163.5,413.7 L164.7,413.8 L165.9,413.8 L167.1,413.9 L168.3,413.9 L169.5,413.9 L170.7,414.0 L171.9,414.0 L173.1,414.0 L174.3,414.1 L175.5,414.1 L176.7,414.1 L177.9,414.2 L179.1,414.2 L180.3,414.2 L181.5,414.3 L182.7,414.3 L183.9,414.3 L185.1,414.3 L186.3,414.4 L187.5,414.4 L188.7,414.4 L189.9,414.5 L191.1,414.5 L192.3,414.5 L193.5,414.5 L194.7,414.5 L195.9,414.6 L197.1,414.6 L198.3,414.6 L199.5,414.6 L200.7,414.7 L201.9,414.7 L203.1,414.7 L204.3,414.7 L205.5,414.7 L206.7,414.7 L207.9,414.8 L209.1,414.8 L210.3,414.8 L211.5,414.8 L212.7,414.8 L213.9,414.8 L215.1,414.8 L216.4,414.9 L217.6,414.9 L218.8,414.9 L220.0,414.9 L221.2,414.9 L222.4,414.9 L223.6,414.9 L224.8,414.9 L226.0,415.0 L227.2,415.0 L228.4,415.0 L229.6,415.0 L230.8,415.0 L232.0,415.0 L233.2,415.0 L234.4,415.0 L235.6,415.0 L236.8,415.0 L238.0,415.0 L239.2,415.0 L240.4,415.0 L241.6,415.0 L242.8,415.1 L244.0,415.1 L245.2,415.1 L246.5,415.1 L247.7,415.1 L248.9,415.1 L250.1,415.1 L251.3,415.1 L252.5,415.1 L253.7,415.1 L254.9,415.1 L256.1,415.1 L257.3,415.1 L258.5,415.1 L259.7,415.1 L260.9,415.1 L262.1,415.1 L263.3,415.1 L264.5,415.1 L265.7,415.1 L266.9,415.1 L268.1,415.1 L269.4,415.1 L270.6,415.1 L271.8,415.1 L273.0,415.1 L274.2,415.1 L275.4,415.1 L276.6,415.1 L277.8,415.1 L279.0,415.1 L280.2,415.1 L281.4,415.1 L282.6,415.1 L283.8,415.1 L285.0,415.1 L286.2,415.1 L287.4,415.1 L288.6,415.1 L289.8,415.1 L291.1,415.1 L292.3,415.1 L293.5,415.1 L294.7,415.1 L295.9,415.1 L297.1,415.1 L298.3,415.1 L299.5,415.1 L300.7,415.1 L301.9,415.1 L303.1,415.2 L304.3,415.2 L305.5,415.2 L306.7,415.2 L307.9,415.2 L309.1,415.2 L310.3,415.2 L311.5,415.2 L312.8,415.2 L314.0,415.2 L315.2,415.2 L316.4,415.2 L317.6,415.2 L318.8,415.2 L320.0,415.2 L321.2,415.2 L322.4,415.2 L323.6,415.2 L324.8,415.2 L326.0,415.2 L327.2,415.2 L328.4,415.2 L329.6,415.3 L330.8,415.3 L332.0,415.3 L333.2,415.3 L334.4,415.3 L335.6,415.3 L336.8,415.3 L338.1,415.3 L339.3,415.3 L340.5,415.3 L341.7,415.4 L342.9,415.4 L344.1,415.4 L345.3,415.4 L346.5,415.4 L347.7,415.4 L348.9,415.4 L350.1,415.4 L351.3,415.5 L352.5,415.5 L353.7,415.5 L354.9,415.5 L356.1,415.5 L357.3,415.5 L358.5,415.5 L359.7,415.6 L360.9,415.6 L362.1,415.6 L363.3,415.6 L364.5,415.6 L365.7,415.6 L366.9,415.7 L368.1,415.7 L369.4,415.7 L370.6,415.7 L371.8,415.7 L373.0,415.8 L374.2,415.8 L375.4,415.8 L376.6,415.8 L377.8,415.8 L379.0,415.8 L380.2,415.9 L381.4,415.9 L382.6,415.9 L383.8,415.9 L385.0,415.9 L386.2,416.0 L387.4,416.0 L388.6,416.0 L389.8,416.0 L391.0,416.0 L392.2,416.0 L393.4,416.1 L394.6,416.1 L395.8,416.1 L397.0,416.1 L398.2,416.1 L399.4,416.2 L400.6,416.2 L401.8,416.2 L403.0,416.2 L404.2,416.2 L405.4,416.2 L406.6,416.3 L407.8,416.3 L409.0,416.3 L410.2,416.3 L411.4,416.3 L412.6,416.3 L413.8,416.4 L415.0,416.4 L416.2,416.4 L417.4,416.4 L418.6,416.4 L419.8,416.4 L421.0,416.4 L422.2,416.5 L423.4,416.5 L424.6,416.5 L425.8,416.5 L427.0,416.5 L428.2,416.5 L429.4,416.5 L430.6,416.5 L431.8,416.5 L433.0,416.5 L434.2,416.6 L435.4,416.6 L436.6,416.6 L437.8,416.6 L439.0,416.6 L440.2,416.6 L441.4,416.6 L442.6,416.6 L443.8,416.6 L445.0,416.6 L446.2,416.6 L447.4,416.6 L448.6,416.6 L449.8,416.6 L451.0,416.6 L452.2,416.6 L453.4,416.6 L454.6,416.6 L455.8,416.6 L457.0,416.6 L458.2,416.6 L459.4,416.6 L460.6,416.6 L461.8,416.6 L463.0,416.6 L464.2,416.6 L465.4,416.6 L466.6,416.6 L467.8,416.6 L469.0,416.6 L470.2,416.5 L471.4,416.5 L472.6,416.5 L473.8,416.5 L475.0,416.5 L476.2,416.5 L477.4,416.5 L478.6,416.4 L479.8,416.4 L481.0,416.4 L482.2,416.4 L483.4,416.4 L484.6,416.3 L485.8,416.3 L487.0,416.3 L488.2,416.2 L489.4,416.2 L490.6,416.1 L491.8,416.1 L493.0,416.0 L494.2,415.9 L495.5,415.8 L496.7,415.7 L497.9,415.6 L499.1,415.4 L500.3,415.3 L501.5,415.1 L502.7,414.9 L504.0,414.7 L505.2,414.5 L506.4,414.3 L507.6,414.0 L508.8,413.7 L510.1,413.4 L511.3,413.1 L512.4,412.7 L513.6,412.3 L514.8,411.9 L515.9,411.4 L517.0,411.0 L518.1,410.4 L519.1,409.9 L520.1,409.2 L521.1,408.6 L522.0,407.9 L522.9,407.2 L523.8,406.4 L524.6,405.6 L525.4,404.7 L526.1,403.8 L526.8,402.9 L527.5,402.0 L528.2,401.0 L528.8,400.0 L529.5,399.0 L530.1,398.0 L530.7,397.0 L531.3,396.0 L531.9,395.0 L532.5,393.9 L533.1,392.9 L533.7,391.8 L534.2,390.8 L534.8,389.7 L535.4,388.7 L536.0,387.6 L536.5,386.6 L537.1,385.5 L537.7,384.4 L538.2,383.4 L538.8,382.3 L539.4,381.2 L539.9,380.2 L540.5,379.1 L541.0,378.0 L541.6,376.9 L542.1,375.9 L542.7,374.8 L543.2,373.7 L543.7,372.6 L544.3,371.5 L544.8,370.4 L545.4,369.3 L545.9,368.3 L546.4,367.2 L547.0,366.1 L547.5,365.0 L548.1,363.9 L548.6,362.8 L549.2,361.7 L549.7,360.6 L550.2,359.5 L550.8,358.4 L551.3,357.4 L551.9,356.3 L552.4,355.2 L553.0,354.1 L553.5,353.0 L554.1,351.9 L554.6,350.9 L555.2,349.8 L555.7,348.7 L556.3,347.6 L556.9,346.5 L557.4,345.5 L558.0,344.4 L558.6,343.3 L559.1,342.3 L559.7,341.2 L560.3,340.1 L560.9,339.1 L561.5,338.0 L562.1,337.0 L562.7,335.9 L563.3,334.9 L563.9,333.9 L564.5,332.8 L565.1,331.8 L565.7,330.8 L566.3,329.7 L566.9,328.7 L567.6,327.7 L568.2,326.7 L568.9,325.7 L569.5,324.7 L570.2,323.7 L570.8,322.7 L571.5,321.7 L572.2,320.7 L572.9,319.7 L573.5,318.8 L574.2,317.8 L574.9,316.8 L575.6,315.9 L576.4,314.9 L577.1,314.0 L577.8,313.1 L578.5,312.1 L579.3,311.2 L580.0,310.3 L580.8,309.4 L581.6,308.5 L582.4,307.6 L583.1,306.7 L583.9,305.8 L584.7,304.9 L585.6,304.1 L586.4,303.2 L587.2,302.4 L588.0,301.5 L588.9,300.7 L589.8,299.9 L590.6,299.1 L591.5,298.3 L592.4,297.5 L593.3,296.7 L594.2,295.9 L595.1,295.1 L596.0,294.3 L597.0,293.6 L597.9,292.8 L598.8,292.1 L599.8,291.4 L600.8,290.6 L601.7,289.9 L602.7,289.2 L603.7,288.5 L604.7,287.8 L605.7,287.2 L606.7,286.5 L607.7,285.8 L608.7,285.2 L609.8,284.5 L610.8,283.9 L611.8,283.3 L612.9,282.7 L613.9,282.1 L615.0,281.5 L616.0,280.9 L617.1,280.3 L618.2,279.7 L619.3,279.2 L620.3,278.6 L621.4,278.1 L622.5,277.6 L623.6,277.0 L624.7,276.5 L625.8,276.0 L626.9,275.5 L628.1,275.1 L629.2,274.6 L630.3,274.1 L631.4,273.7 L632.5,273.2 L633.7,272.8 L634.8,272.4 L636.0,272.0 L637.1,271.6 L638.2,271.2 L639.4,270.8 L640.5,270.4 L641.7,270.1 L642.8,269.7 L644.0,269.4 L645.2,269.0 L646.3,268.7 L647.5,268.4 L648.6,268.1 L649.8,267.8 L651.0,267.5 L652.1,267.3 L653.3,267.0 L654.5,266.8 L655.6,266.5 L656.8,266.3 L658.0,266.1 L659.1,265.9 L660.3,265.7 L661.5,265.5 L662.6,265.3 L663.8,265.2 L665.0,265.0" fill="none" stroke="#00ff00" stroke-width="3.4" stroke-linejoin="round" stroke-linecap="round"/>
<path d="M92.6,293.3 L92.7,294.5 L92.9,295.6 L93.0,296.8 L93.1,298.0 L93.2,299.1 L93.3,300.3 L93.4,301.5 L93.5,302.7 L93.6,303.9 L93.7,305.1 L93.8,306.3 L93.8,307.5 L93.9,308.7 L94.0,310.0 L94.1,311.2 L94.1,312.4 L94.2,313.6 L94.3,314.9 L94.4,316.1 L94.4,317.3 L94.5,318.5 L94.6,319.8 L94.7,321.0 L94.7,322.2 L94.8,323.4 L94.9,324.7 L95.0,325.9 L95.1,327.1 L95.2,328.3 L95.2,329.6 L95.3,330.8 L95.4,332.0 L95.6,333.2 L95.7,334.4 L95.8,335.6 L95.9,336.8 L96.0,338.0 L96.2,339.2 L96.3,340.3 L96.4,341.5 L96.6,342.7 L96.7,343.8 L96.9,345.0 L97.1,346.1 L97.3,347.3 L97.5,348.4 L97.7,349.5 L97.9,350.7 L98.1,351.8 L98.3,352.9 L98.5,354.1 L98.7,355.4 L99.0,356.7 L99.2,358.0 L99.4,359.4 L99.6,360.8 L100.1,361.9 L100.8,362.3 L101.8,362.1 L103.0,361.6 L104.3,361.2 L105.5,360.8 L106.7,360.4 L107.8,360.2 L109.0,359.9 L110.2,359.8 L111.3,359.6 L112.5,359.4 L113.7,359.3 L114.8,359.1 L116.0,359.0 L117.2,358.9 L118.4,358.7 L119.6,358.6 L120.8,358.4 L122.0,358.3 L123.2,358.1 L124.4,358.0 L125.6,357.8 L126.8,357.7 L128.0,357.5 L129.2,357.4 L130.4,357.2 L131.6,357.1 L132.8,356.9 L134.0,356.7 L135.2,356.6 L136.4,356.4 L137.6,356.3 L138.8,356.1 L140.0,356.0 L141.2,355.8 L142.4,355.6 L143.6,355.5 L144.8,355.3 L146.0,355.2 L147.2,355.0 L148.3,354.9 L149.5,354.7 L150.7,354.6 L151.9,354.4 L153.1,354.3 L154.3,354.1 L155.5,354.0 L156.7,353.8 L157.9,353.7 L159.1,353.6 L160.3,353.4 L161.5,353.3 L162.7,353.2 L163.9,353.1 L165.1,353.0 L166.3,352.8 L167.5,352.7 L168.7,352.6 L169.9,352.5 L171.1,352.4 L172.3,352.4 L173.5,352.3 L174.7,352.2 L175.9,352.1 L177.1,352.0 L178.3,352.0 L179.5,351.9 L180.7,351.8 L181.9,351.8 L183.1,351.7 L184.3,351.6 L185.5,351.6 L186.7,351.5 L187.9,351.5 L189.1,351.4 L190.3,351.4 L191.5,351.4 L192.7,351.3 L193.9,351.3 L195.1,351.3 L196.3,351.2 L197.5,351.2 L198.7,351.2 L199.9,351.1 L201.1,351.1 L202.4,351.1 L203.6,351.1 L204.8,351.1 L206.0,351.0 L207.2,351.0 L208.4,351.0 L209.6,351.0 L210.8,351.0 L212.0,351.0 L213.2,351.0 L214.4,351.0 L215.6,350.9 L216.8,350.9 L218.0,350.9 L219.2,350.9 L220.4,350.9 L221.6,350.9 L222.8,350.9 L224.0,350.9 L225.2,350.9 L226.4,350.9 L227.6,350.9 L228.8,350.9 L230.1,350.9 L231.3,350.9 L232.5,350.8 L233.7,350.8 L234.9,350.8 L236.1,350.8 L237.3,350.8 L238.5,350.8 L239.7,350.8 L240.9,350.8 L242.1,350.8 L243.3,350.7 L244.5,350.7 L245.7,350.7 L246.9,350.7 L248.1,350.7 L249.3,350.7 L250.5,350.6 L251.7,350.6 L252.9,350.6 L254.1,350.5 L255.3,350.5 L256.5,350.5 L257.7,350.4 L258.9,350.4 L260.1,350.4 L261.3,350.3 L262.5,350.3 L263.7,350.2 L264.9,350.2 L266.1,350.1 L267.3,350.1 L268.5,350.0 L269.7,350.0 L270.9,349.9 L272.1,349.8 L273.3,349.8 L274.5,349.7 L275.7,349.6 L276.9,349.5 L278.0,349.5 L279.2,349.4 L280.4,349.3 L281.6,349.2 L282.8,349.1 L284.0,349.0 L285.2,348.9 L286.4,348.8 L287.6,348.7 L288.8,348.6 L290.0,348.5 L291.2,348.4 L292.4,348.3 L293.6,348.2 L294.8,348.0 L296.0,347.9 L297.2,347.8 L298.4,347.6 L299.6,347.5 L300.8,347.4 L302.0,347.2 L303.2,347.1 L304.4,346.9 L305.6,346.7 L306.8,346.6 L308.0,346.4 L309.2,346.2 L310.4,346.1 L311.6,345.9 L312.8,345.7 L314.0,345.5 L315.1,345.3 L316.3,345.1 L317.5,344.9 L318.7,344.7 L319.9,344.5 L321.1,344.3 L322.4,344.1 L323.6,343.9 L324.8,343.7 L326.0,343.4 L327.2,343.2 L328.4,342.9 L329.6,342.7 L330.8,342.5 L332.0,342.2 L333.2,341.9 L334.4,341.7 L335.6,341.4 L336.8,341.1 L338.0,340.8 L339.2,340.5 L340.3,340.2 L341.5,339.9 L342.7,339.5 L343.8,339.1 L345.0,338.7 L346.1,338.3 L347.2,337.9 L348.3,337.5 L349.4,337.0 L350.4,336.5 L351.5,336.0 L352.5,335.4 L353.5,334.8 L354.5,334.2 L355.5,333.6 L356.5,333.0 L357.4,332.3 L358.3,331.6 L359.2,330.9 L360.1,330.1 L361.0,329.4 L361.9,328.6 L362.7,327.8 L363.6,327.0 L364.4,326.2 L365.2,325.3 L366.0,324.5 L366.8,323.6 L367.6,322.7 L368.3,321.8 L369.1,320.8 L369.8,319.9 L370.6,318.9 L371.3,318.0 L372.0,317.0 L372.7,316.0 L373.4,315.0 L374.0,314.0 L374.7,313.0 L375.4,311.9 L376.0,310.9 L376.7,309.8 L377.3,308.8 L377.9,307.7 L378.5,306.6 L379.1,305.6 L379.7,304.5 L380.3,303.4 L380.9,302.3 L381.5,301.2 L382.1,300.1 L382.6,299.0 L383.2,297.9 L383.8,296.8 L384.3,295.7 L384.9,294.6 L385.4,293.4 L386.0,292.3 L386.5,291.2 L387.1,290.1 L387.6,289.0 L388.1,287.9 L388.6,286.8 L389.2,285.7 L389.7,284.6 L390.2,283.5 L390.7,282.4 L391.3,281.3 L391.8,280.2 L392.3,279.1 L392.8,278.0 L393.3,277.0 L393.8,275.9 L394.3,274.8 L394.8,273.7 L395.3,272.6 L395.8,271.5 L396.3,270.4 L396.8,269.3 L397.3,268.3 L397.8,267.2 L398.3,266.1 L398.8,265.0 L399.3,263.9 L399.8,262.8 L400.3,261.8 L400.8,260.7 L401.3,259.6 L401.8,258.5 L402.3,257.4 L402.8,256.4 L403.3,255.3 L403.7,254.2 L404.2,253.1 L404.7,252.0 L405.2,251.0 L405.7,249.9 L406.2,248.8 L406.7,247.7 L407.2,246.7 L407.7,245.6 L408.2,244.5 L408.7,243.4 L409.2,242.3 L409.7,241.3 L410.2,240.2 L410.8,239.1 L411.3,238.0 L411.8,236.9 L412.3,235.9 L412.8,234.8 L413.3,233.7 L413.9,232.6 L414.4,231.5 L414.9,230.5 L415.4,229.4 L416.0,228.3 L416.5,227.2 L417.0,226.1 L417.6,225.1 L418.1,224.0 L418.7,222.9 L419.2,221.8 L419.8,220.8 L420.3,219.7 L420.9,218.6 L421.4,217.5 L422.0,216.5 L422.6,215.4 L423.1,214.3 L423.7,213.3 L424.3,212.2 L424.8,211.1 L425.4,210.1 L426.0,209.0 L426.6,207.9 L427.2,206.9 L427.8,205.8 L428.4,204.8 L429.0,203.7 L429.6,202.7 L430.2,201.6 L430.8,200.6 L431.4,199.5 L432.0,198.5 L432.6,197.4 L433.3,196.4 L433.9,195.4 L434.5,194.3 L435.1,193.3 L435.8,192.3 L436.4,191.2 L437.1,190.2 L437.7,189.2 L438.4,188.2 L439.1,187.2 L439.7,186.2 L440.4,185.2 L441.1,184.2 L441.7,183.2 L442.4,182.2 L443.1,181.2 L443.8,180.2 L444.5,179.2 L445.2,178.2 L445.9,177.2 L446.6,176.3 L447.3,175.3 L448.0,174.3 L448.8,173.4 L449.5,172.4 L450.2,171.5 L451.0,170.5 L451.7,169.6 L452.5,168.6 L453.2,167.7 L454.0,166.8 L454.8,165.8 L455.5,164.9 L456.3,164.0 L457.1,163.1 L457.9,162.2 L458.7,161.3 L459.5,160.4 L460.3,159.5 L461.1,158.6 L461.9,157.7 L462.7,156.8 L463.5,156.0 L464.4,155.1 L465.2,154.2 L466.0,153.4 L466.9,152.5 L467.8,151.7 L468.6,150.9 L469.5,150.0 L470.4,149.2 L471.2,148.4 L472.1,147.6 L473.0,146.8 L473.9,146.0 L474.8,145.2 L475.7,144.4 L476.7,143.6 L477.6,142.8 L478.5,142.1 L479.4,141.3 L480.4,140.6 L481.3,139.8 L482.3,139.1 L483.3,138.3 L484.2,137.6 L485.2,136.9 L486.2,136.2 L487.2,135.5 L488.2,134.8 L489.2,134.1 L490.2,133.4" fill="none" stroke="#000" stroke-width="3.4" stroke-linejoin="round" stroke-linecap="round"/>
<rect x="91.1" y="253.7" width="3" height="3" fill="#000"/>
<rect x="91.1" y="347.4" width="3" height="3" fill="#0000ff"/>
<rect x="91.1" y="365.7" width="3" height="3" fill="#00ffff"/>
<rect x="91.1" y="408.1" width="3" height="3" fill="#ff00ff"/>
<rect x="91.1" y="425.5" width="3" height="3" fill="#ff00ff"/>
</g>
<line x1="361.8" y1="472.7" x2="361.8" y2="487.7" stroke="#000" stroke-width="2.6"/>
<path d="M359.7,486.7 L363.9,486.7 L361.8,491.7 Z" fill="#000"/>
<line x1="418.3" y1="472.7" x2="418.3" y2="487.7" stroke="#ff00ff" stroke-width="2.6"/>
<path d="M416.2,486.7 L420.4,486.7 L418.3,491.7 Z" fill="#ff00ff"/>
<line x1="431.5" y1="472.7" x2="431.5" y2="487.7" stroke="#00ffff" stroke-width="2.6"/>
<path d="M429.4,486.7 L433.6,486.7 L431.5,491.7 Z" fill="#00ffff"/>
<line x1="483.4" y1="472.7" x2="483.4" y2="487.7" stroke="#0000ff" stroke-width="2.6"/>
<path d="M481.3,486.7 L485.5,486.7 L483.4,491.7 Z" fill="#0000ff"/>
<line x1="524.1" y1="472.7" x2="524.1" y2="487.7" stroke="#00ff00" stroke-width="2.6"/>
<path d="M522.0,486.7 L526.2,486.7 L524.1,491.7 Z" fill="#00ff00"/>
<text x="588.7" y="93" font-size="29" text-anchor="start" textLength="68" lengthAdjust="spacingAndGlyphs" >22°C</text>
<rect x="103.5" y="76.3" width="148.5" height="149.5" fill="#fff" stroke="#777" stroke-width="1.3"/>
<text x="108.6" y="94.4" font-size="18.5" text-anchor="start" textLength="136" lengthAdjust="spacingAndGlyphs" >Pore diameter:</text>
<line x1="108.5" y1="97.6" x2="243.5" y2="97.6" stroke="#333" stroke-width="1.8"/>
<rect x="125" y="108.9" width="10" height="10" fill="#000"/>
<text x="239.70000000000002" y="120.5" font-size="21" text-anchor="end" textLength="67.4" lengthAdjust="spacingAndGlyphs" >140 nm</text>
<rect x="125" y="134.2" width="10" height="10" fill="#00ff00"/>
<text x="239.70000000000002" y="145.8" font-size="21" text-anchor="end" textLength="67.4" lengthAdjust="spacingAndGlyphs" >100 nm</text>
<rect x="125" y="159.6" width="10" height="10" fill="#0000ff"/>
<text x="239.70000000000002" y="171.2" font-size="21" text-anchor="end" textLength="56.1" lengthAdjust="spacingAndGlyphs" >80 nm</text>
<rect x="125" y="185.0" width="10" height="10" fill="#00ffff"/>
<text x="239.70000000000002" y="196.6" font-size="21" text-anchor="end" textLength="56.1" lengthAdjust="spacingAndGlyphs" >60 nm</text>
<rect x="125" y="210.3" width="10" height="10" fill="#ff00ff"/>
<text x="239.70000000000002" y="221.9" font-size="21" text-anchor="end" textLength="56.1" lengthAdjust="spacingAndGlyphs" >40 nm</text>
<text font-size="28.7" transform="translate(3.9,24) scale(0.86,1)">a</text>
<text font-size="26" transform="translate(21.6,21.6) scale(0.82,1)">)</text>
<line x1="74" y1="1030.0" x2="83" y2="1030.0" stroke="#222" stroke-width="2"/>
<line x1="673" y1="1030.0" x2="665" y2="1030.0" stroke="#222" stroke-width="2"/>
<line x1="79" y1="1002.9" x2="83" y2="1002.9" stroke="#222" stroke-width="2"/>
<line x1="673" y1="1002.9" x2="669" y2="1002.9" stroke="#222" stroke-width="2"/>
<line x1="74" y1="975.8" x2="83" y2="975.8" stroke="#222" stroke-width="2"/>
<line x1="673" y1="975.8" x2="665" y2="975.8" stroke="#222" stroke-width="2"/>
<line x1="79" y1="948.6" x2="83" y2="948.6" stroke="#222" stroke-width="2"/>
<line x1="673" y1="948.6" x2="669" y2="948.6" stroke="#222" stroke-width="2"/>
<line x1="74" y1="921.5" x2="83" y2="921.5" stroke="#222" stroke-width="2"/>
<line x1="673" y1="921.5" x2="665" y2="921.5" stroke="#222" stroke-width="2"/>
<line x1="79" y1="894.4" x2="83" y2="894.4" stroke="#222" stroke-width="2"/>
<line x1="673" y1="894.4" x2="669" y2="894.4" stroke="#222" stroke-width="2"/>
<line x1="74" y1="867.2" x2="83" y2="867.2" stroke="#222" stroke-width="2"/>
<line x1="673" y1="867.2" x2="665" y2="867.2" stroke="#222" stroke-width="2"/>
<line x1="79" y1="840.1" x2="83" y2="840.1" stroke="#222" stroke-width="2"/>
<line x1="673" y1="840.1" x2="669" y2="840.1" stroke="#222" stroke-width="2"/>
<line x1="74" y1="813.0" x2="83" y2="813.0" stroke="#222" stroke-width="2"/>
<line x1="673" y1="813.0" x2="665" y2="813.0" stroke="#222" stroke-width="2"/>
<line x1="79" y1="785.9" x2="83" y2="785.9" stroke="#222" stroke-width="2"/>
<line x1="673" y1="785.9" x2="669" y2="785.9" stroke="#222" stroke-width="2"/>
<line x1="74" y1="758.8" x2="83" y2="758.8" stroke="#222" stroke-width="2"/>
<line x1="673" y1="758.8" x2="665" y2="758.8" stroke="#222" stroke-width="2"/>
<line x1="79" y1="731.6" x2="83" y2="731.6" stroke="#222" stroke-width="2"/>
<line x1="673" y1="731.6" x2="669" y2="731.6" stroke="#222" stroke-width="2"/>
<line x1="74" y1="704.5" x2="83" y2="704.5" stroke="#222" stroke-width="2"/>
<line x1="673" y1="704.5" x2="665" y2="704.5" stroke="#222" stroke-width="2"/>
<line x1="79" y1="677.4" x2="83" y2="677.4" stroke="#222" stroke-width="2"/>
<line x1="673" y1="677.4" x2="669" y2="677.4" stroke="#222" stroke-width="2"/>
<line x1="74" y1="650.2" x2="83" y2="650.2" stroke="#222" stroke-width="2"/>
<line x1="673" y1="650.2" x2="665" y2="650.2" stroke="#222" stroke-width="2"/>
<line x1="79" y1="623.1" x2="83" y2="623.1" stroke="#222" stroke-width="2"/>
<line x1="673" y1="623.1" x2="669" y2="623.1" stroke="#222" stroke-width="2"/>
<line x1="74" y1="596.0" x2="83" y2="596.0" stroke="#222" stroke-width="2"/>
<line x1="673" y1="596.0" x2="665" y2="596.0" stroke="#222" stroke-width="2"/>
<line x1="92.4" y1="1030" x2="92.4" y2="1038.5" stroke="#222" stroke-width="2"/>
<line x1="92.4" y1="596" x2="92.4" y2="604" stroke="#222" stroke-width="2"/>
<line x1="140.8" y1="1030" x2="140.8" y2="1034" stroke="#222" stroke-width="2"/>
<line x1="140.8" y1="596" x2="140.8" y2="600" stroke="#222" stroke-width="2"/>
<line x1="189.2" y1="1030" x2="189.2" y2="1038.5" stroke="#222" stroke-width="2"/>
<line x1="189.2" y1="596" x2="189.2" y2="604" stroke="#222" stroke-width="2"/>
<line x1="237.6" y1="1030" x2="237.6" y2="1034" stroke="#222" stroke-width="2"/>
<line x1="237.6" y1="596" x2="237.6" y2="600" stroke="#222" stroke-width="2"/>
<line x1="285.9" y1="1030" x2="285.9" y2="1038.5" stroke="#222" stroke-width="2"/>
<line x1="285.9" y1="596" x2="285.9" y2="604" stroke="#222" stroke-width="2"/>
<line x1="334.3" y1="1030" x2="334.3" y2="1034" stroke="#222" stroke-width="2"/>
<line x1="334.3" y1="596" x2="334.3" y2="600" stroke="#222" stroke-width="2"/>
<line x1="382.7" y1="1030" x2="382.7" y2="1038.5" stroke="#222" stroke-width="2"/>
<line x1="382.7" y1="596" x2="382.7" y2="604" stroke="#222" stroke-width="2"/>
<line x1="431.1" y1="1030" x2="431.1" y2="1034" stroke="#222" stroke-width="2"/>
<line x1="431.1" y1="596" x2="431.1" y2="600" stroke="#222" stroke-width="2"/>
<line x1="479.5" y1="1030" x2="479.5" y2="1038.5" stroke="#222" stroke-width="2"/>
<line x1="479.5" y1="596" x2="479.5" y2="604" stroke="#222" stroke-width="2"/>
<line x1="527.9" y1="1030" x2="527.9" y2="1034" stroke="#222" stroke-width="2"/>
<line x1="527.9" y1="596" x2="527.9" y2="600" stroke="#222" stroke-width="2"/>
<line x1="576.2" y1="1030" x2="576.2" y2="1038.5" stroke="#222" stroke-width="2"/>
<line x1="576.2" y1="596" x2="576.2" y2="604" stroke="#222" stroke-width="2"/>
<line x1="624.6" y1="1030" x2="624.6" y2="1034" stroke="#222" stroke-width="2"/>
<line x1="624.6" y1="596" x2="624.6" y2="600" stroke="#222" stroke-width="2"/>
<line x1="673.0" y1="1030" x2="673.0" y2="1038.5" stroke="#222" stroke-width="2"/>
<line x1="673.0" y1="596" x2="673.0" y2="604" stroke="#222" stroke-width="2"/>
<line x1="83" y1="596" x2="83" y2="1030" stroke="#4a4a4a" stroke-width="2.4"/>
<line x1="673.3" y1="596" x2="673.3" y2="1030" stroke="#4a4a4a" stroke-width="2.4"/>
<line x1="81.8" y1="596" x2="674.5" y2="596" stroke="#1c1c1c" stroke-width="2.1"/>
<line x1="81.8" y1="1030" x2="674.5" y2="1030" stroke="#1c1c1c" stroke-width="2.1"/>
<text x="67.0" y="1035.0" font-size="17" text-anchor="end" >0,0</text>
<text x="67.0" y="980.8" font-size="17" text-anchor="end" >-0,1</text>
<text x="67.0" y="926.5" font-size="17" text-anchor="end" >-0,2</text>
<text x="67.0" y="872.2" font-size="17" text-anchor="end" >-0,3</text>
<text x="67.0" y="818.0" font-size="17" text-anchor="end" >-0,4</text>
<text x="67.0" y="763.8" font-size="17" text-anchor="end" >-0,5</text>
<text x="67.0" y="709.5" font-size="17" text-anchor="end" >-0,6</text>
<text x="67.0" y="655.2" font-size="17" text-anchor="end" >-0,7</text>
<text x="67.0" y="601.0" font-size="17" text-anchor="end" >-0,8</text>
<text x="92.4" y="1057.6" font-size="17" text-anchor="middle" >0</text>
<text x="189.2" y="1057.6" font-size="17" text-anchor="middle" >10</text>
<text x="285.9" y="1057.6" font-size="17" text-anchor="middle" >20</text>
<text x="382.7" y="1057.6" font-size="17" text-anchor="middle" >30</text>
<text x="479.5" y="1057.6" font-size="17" text-anchor="middle" >40</text>
<text x="576.2" y="1057.6" font-size="17" text-anchor="middle" >50</text>
<text x="673.0" y="1057.6" font-size="17" text-anchor="middle" >60</text>
<text x="328.6" y="1091.0" font-size="20.5" text-anchor="start" textLength="101" lengthAdjust="spacingAndGlyphs" >Time [min]</text>
<text transform="translate(22.3,812.5) rotate(-90)" text-anchor="middle" font-size="20.5" textLength="181" lengthAdjust="spacingAndGlyphs">Mean Current [mA]</text>
<clipPath id="cb"><rect x="84" y="597" width="588" height="432"/></clipPath>
<g clip-path="url(#cb)">
<path d="M92.7,1000.0 L93.0,1001.4 L93.4,1002.6 L93.9,1003.8 L94.4,1004.8 L95.0,1005.8 L95.7,1006.7 L96.5,1007.5 L97.3,1008.3 L98.1,1009.0 L99.1,1009.6 L100.0,1010.2 L101.0,1010.7 L102.1,1011.2 L103.2,1011.6 L104.3,1012.0 L105.4,1012.4 L106.6,1012.7 L107.7,1013.0 L108.9,1013.3 L110.1,1013.5 L111.3,1013.8 L112.5,1014.0 L113.7,1014.2 L114.9,1014.5 L116.1,1014.7 L117.3,1014.8 L118.5,1015.0 L119.7,1015.2 L120.9,1015.3 L122.1,1015.5 L123.3,1015.6 L124.5,1015.7 L125.8,1015.8 L127.0,1015.9 L128.2,1016.0 L129.4,1016.1 L130.7,1016.2 L131.9,1016.2 L133.1,1016.3 L134.3,1016.3 L135.6,1016.4 L136.8,1016.4 L138.0,1016.5 L139.3,1016.5 L140.5,1016.5 L141.7,1016.5 L142.9,1016.5 L144.2,1016.5 L145.4,1016.6 L146.6,1016.6 L147.9,1016.5 L149.1,1016.5 L150.3,1016.5 L151.5,1016.5 L152.7,1016.5 L154.0,1016.5 L155.2,1016.5 L156.4,1016.5 L157.6,1016.5 L158.8,1016.4 L160.0,1016.4 L161.2,1016.4 L162.4,1016.4 L163.6,1016.4 L164.8,1016.3 L166.0,1016.3 L167.3,1016.3 L168.5,1016.3 L169.7,1016.2 L170.9,1016.2 L172.1,1016.2 L173.3,1016.1 L174.4,1016.1 L175.6,1016.1 L176.8,1016.0 L178.0,1016.0 L179.2,1016.0 L180.4,1015.9 L181.6,1015.9 L182.8,1015.9 L184.0,1015.9 L185.2,1015.8 L186.4,1015.8 L187.6,1015.8 L188.8,1015.7 L190.0,1015.7 L191.2,1015.7 L192.4,1015.7 L193.5,1015.6 L194.7,1015.6 L195.9,1015.6 L197.1,1015.6 L198.3,1015.5 L199.5,1015.5 L200.7,1015.5 L201.9,1015.5 L203.1,1015.5 L204.3,1015.4 L205.5,1015.4 L206.7,1015.4 L207.9,1015.4 L209.1,1015.4 L210.3,1015.4 L211.5,1015.4 L212.6,1015.4 L213.8,1015.4 L215.0,1015.4 L216.2,1015.4 L217.4,1015.4 L218.7,1015.4 L219.9,1015.4 L221.1,1015.4 L222.3,1015.5 L223.5,1015.5 L224.7,1015.5 L225.9,1015.5 L227.1,1015.6 L228.3,1015.6 L229.5,1015.6 L230.7,1015.7 L232.0,1015.7 L233.2,1015.8 L234.4,1015.8 L235.6,1015.9 L236.8,1015.9 L238.1,1016.0 L239.3,1016.0 L240.5,1016.1 L241.7,1016.1 L242.9,1016.1 L244.2,1016.2 L245.4,1016.2 L246.6,1016.2 L247.8,1016.2 L249.0,1016.2 L250.2,1016.2 L251.5,1016.1 L252.7,1016.1 L253.9,1016.0 L255.1,1016.0 L256.3,1015.9 L257.5,1015.7 L258.7,1015.6 L259.9,1015.4 L261.0,1015.3 L262.2,1015.1 L263.4,1014.8 L264.6,1014.6 L265.7,1014.3 L266.9,1014.0 L268.0,1013.6 L269.1,1013.3 L270.3,1012.8 L271.4,1012.4 L272.4,1011.9 L273.5,1011.4 L274.5,1010.9 L275.6,1010.3 L276.6,1009.7 L277.5,1009.0 L278.4,1008.3 L279.3,1007.6 L280.2,1006.8 L281.0,1005.9 L281.8,1005.1 L282.6,1004.2 L283.3,1003.2 L284.0,1002.3 L284.7,1001.3 L285.3,1000.3 L285.9,999.3 L286.4,998.2 L287.0,997.1 L287.4,996.1 L287.9,995.0 L288.3,993.8 L288.7,992.7 L289.1,991.6 L289.4,990.4 L289.7,989.3 L290.0,988.1 L290.3,986.9 L290.5,985.7 L290.8,984.5 L291.0,983.3 L291.2,982.1 L291.4,980.8 L291.5,979.6 L291.7,978.4 L291.8,977.1 L292.0,975.9 L292.1,974.6 L292.2,973.4 L292.3,972.1 L292.4,970.9 L292.5,969.6 L292.7,968.4 L292.8,967.1 L292.9,965.9 L293.0,964.7 L293.1,963.4 L293.2,962.2 L293.3,960.9 L293.4,959.7 L293.5,958.5 L293.6,957.2 L293.7,956.0 L293.8,954.8 L293.9,953.5 L294.0,952.3 L294.1,951.1 L294.2,949.9 L294.3,948.6 L294.4,947.4 L294.5,946.2 L294.6,945.0 L294.7,943.7 L294.8,942.5 L294.8,941.3 L294.9,940.1 L295.0,938.9 L295.1,937.7 L295.2,936.4 L295.3,935.2 L295.4,934.0 L295.5,932.8 L295.6,931.6 L295.7,930.4 L295.8,929.2 L295.8,928.0 L295.9,926.8 L296.0,925.6 L296.1,924.4 L296.2,923.2 L296.3,922.0 L296.4,920.8 L296.5,919.6 L296.5,918.4 L296.6,917.2 L296.7,916.0 L296.8,914.8 L296.9,913.6 L297.0,912.4 L297.1,911.2 L297.1,910.0 L297.2,908.8 L297.3,907.6 L297.4,906.4 L297.5,905.2 L297.6,904.0 L297.7,902.8 L297.7,901.6 L297.8,900.4 L297.9,899.2 L298.0,898.0 L298.1,896.8 L298.2,895.7 L298.3,894.5 L298.4,893.3 L298.4,892.1 L298.5,890.9 L298.6,889.7 L298.7,888.5 L298.8,887.3 L298.9,886.1 L299.0,885.0 L299.1,883.8 L299.2,882.6 L299.3,881.4 L299.3,880.2 L299.4,879.0 L299.5,877.8 L299.6,876.6 L299.7,875.5 L299.8,874.3 L299.9,873.1 L300.0,871.9 L300.1,870.7 L300.2,869.5 L300.3,868.3 L300.4,867.1 L300.5,866.0 L300.6,864.8 L300.7,863.6 L300.8,862.4 L300.9,861.2 L301.0,860.0 L301.1,858.8 L301.2,857.6 L301.3,856.4 L301.4,855.3 L301.5,854.1 L301.6,852.9 L301.7,851.7 L301.8,850.5 L301.9,849.3 L302.1,848.1 L302.2,846.9 L302.3,845.7 L302.4,844.5 L302.5,843.3 L302.6,842.2 L302.7,841.0 L302.9,839.8 L303.0,838.6 L303.1,837.4 L303.2,836.2 L303.3,835.0 L303.5,833.8 L303.6,832.6 L303.7,831.4 L303.8,830.2 L303.9,829.0 L304.1,827.8 L304.2,826.6 L304.3,825.4 L304.5,824.3 L304.6,823.1 L304.7,821.9 L304.9,820.7 L305.0,819.5 L305.1,818.3 L305.3,817.1 L305.4,815.9 L305.6,814.7 L305.7,813.5 L305.8,812.3 L306.0,811.1 L306.1,809.9 L306.3,808.7 L306.4,807.5 L306.6,806.3 L306.7,805.1 L306.9,804.0 L307.0,802.8 L307.2,801.6 L307.3,800.4 L307.5,799.2 L307.6,798.0 L307.8,796.8 L308.0,795.6 L308.1,794.4 L308.3,793.2 L308.4,792.0 L308.6,790.8 L308.8,789.6 L309.0,788.4 L309.1,787.2 L309.3,786.0 L309.5,784.9 L309.6,783.7 L309.8,782.5 L310.0,781.3 L310.2,780.1 L310.4,778.9 L310.5,777.7 L310.7,776.5 L310.9,775.3 L311.1,774.1 L311.3,772.9 L311.5,771.7 L311.7,770.6 L311.9,769.4 L312.1,768.2 L312.2,767.0 L312.4,765.8 L312.6,764.6 L312.8,763.4 L313.1,762.2 L313.3,761.0 L313.5,759.9 L313.7,758.7 L313.9,757.5 L314.1,756.3 L314.3,755.1 L314.5,753.9 L314.7,752.7 L315.0,751.5 L315.2,750.4 L315.4,749.2 L315.6,748.0 L315.9,746.8 L316.1,745.6 L316.3,744.4 L316.5,743.2 L316.8,742.1 L317.0,740.9 L317.3,739.7 L317.5,738.5 L317.7,737.3 L318.0,736.2 L318.2,735.0 L318.5,733.8 L318.7,732.6 L319.0,731.4 L319.2,730.2 L319.5,729.1 L319.7,727.9 L320.0,726.7 L320.2,725.5 L320.5,724.4 L320.8,723.2 L321.0,722.0 L321.3,720.8 L321.6,719.7 L321.9,718.5 L322.1,717.3 L322.4,716.1 L322.7,715.0 L323.0,713.8 L323.3,712.6 L323.5,711.4 L323.8,710.3 L324.1,709.1 L324.4,707.9 L324.7,706.8 L325.0,705.6 L325.3,704.4 L325.6,703.3 L325.9,702.1 L326.2,700.9 L326.5,699.8 L326.8,698.6 L327.1,697.4 L327.5,696.3 L327.8,695.1 L328.1,693.9 L328.4,692.8 L328.7,691.6 L329.1,690.4 L329.4,689.3 L329.7,688.1 L330.1,687.0 L330.4,685.8 L330.7,684.6 L331.1,683.5 L331.4,682.3 L331.8,681.2 L332.1,680.0 L332.5,678.9 L332.8,677.7 L333.2,676.6 L333.5,675.4 L333.9,674.3 L334.3,673.1 L334.6,672.0 L335.0,670.8 L335.4,669.7 L335.7,668.5 L336.1,667.4 L336.5,666.2 L336.9,665.1 L337.3,664.0 L337.7,662.8 L338.1,661.7 L338.5,660.5 L338.9,659.4 L339.3,658.3 L339.7,657.2 L340.1,656.0 L340.6,654.9 L341.0,653.8 L341.4,652.7 L341.9,651.5 L342.3,650.4 L342.8,649.3 L343.2,648.2 L343.7,647.1 L344.1,646.0 L344.6,644.9 L345.1,643.8 L345.6,642.7 L346.1,641.6 L346.6,640.5 L347.1,639.5 L347.6,638.4 L348.1,637.3 L348.6,636.2 L349.1,635.2 L349.7,634.1 L350.2,633.1 L350.8,632.0 L351.3,630.9 L351.9,629.9 L352.5,628.9 L353.1,627.8 L353.7,626.8 L354.3,625.8 L354.9,624.7 L355.5,623.7 L356.1,622.7 L356.7,621.7 L357.4,620.7 L358.0,619.7 L358.7,618.7 L359.4,617.7 L360.0,616.7 L360.7,615.8 L361.4,614.8 L362.1,613.8 L362.8,612.9 L363.6,611.9 L364.3,611.0 L365.0,610.0 L365.8,609.1 L366.6,608.2 L367.3,607.3 L368.1,606.4 L368.9,605.4 L369.7,604.5 L370.6,603.7 L371.4,602.8 L372.2,601.9 L373.1,601.0 L373.9,600.1 L374.8,599.3 L375.7,598.4 L376.6,597.6 L377.5,596.8 L378.4,595.9 L379.4,595.1 L380.3,594.3 L381.3,593.5 L382.3,592.7 L383.2,591.9" fill="none" stroke="#008000" stroke-width="2.8" stroke-linejoin="round" stroke-linecap="round"/>
<path d="M295.8,929.2 L295.8,928.0 L295.9,926.8 L296.0,925.6 L296.1,924.4 L296.2,923.2 L296.3,922.0 L296.4,920.8 L296.5,919.6 L296.5,918.4 L296.6,917.2 L296.7,916.0 L296.8,914.8 L296.9,913.6 L297.0,912.4 L297.1,911.2 L297.1,910.0 L297.2,908.8 L297.3,907.6 L297.4,906.4 L297.5,905.2 L297.6,904.0 L297.7,902.8 L297.7,901.6 L297.8,900.4 L297.9,899.2 L298.0,898.0 L298.1,896.8 L298.2,895.7 L298.3,894.5 L298.4,893.3 L298.4,892.1 L298.5,890.9 L298.6,889.7 L298.7,888.5 L298.8,887.3 L298.9,886.1 L299.0,885.0 L299.1,883.8 L299.2,882.6 L299.3,881.4 L299.3,880.2 L299.4,879.0 L299.5,877.8 L299.6,876.6 L299.7,875.5 L299.8,874.3 L299.9,873.1 L300.0,871.9 L300.1,870.7 L300.2,869.5 L300.3,868.3 L300.4,867.1 L300.5,866.0 L300.6,864.8 L300.7,863.6 L300.8,862.4 L300.9,861.2 L301.0,860.0 L301.1,858.8 L301.2,857.6 L301.3,856.4 L301.4,855.3 L301.5,854.1 L301.6,852.9 L301.7,851.7 L301.8,850.5 L301.9,849.3 L302.1,848.1 L302.2,846.9 L302.3,845.7 L302.4,844.5 L302.5,843.3 L302.6,842.2 L302.7,841.0 L302.9,839.8 L303.0,838.6 L303.1,837.4 L303.2,836.2 L303.3,835.0 L303.5,833.8 L303.6,832.6 L303.7,831.4 L303.8,830.2 L303.9,829.0 L304.1,827.8 L304.2,826.6 L304.3,825.4 L304.5,824.3 L304.6,823.1 L304.7,821.9 L304.9,820.7 L305.0,819.5 L305.1,818.3 L305.3,817.1 L305.4,815.9 L305.6,814.7 L305.7,813.5 L305.8,812.3 L306.0,811.1 L306.1,809.9 L306.3,808.7 L306.4,807.5 L306.6,806.3 L306.7,805.1 L306.9,804.0 L307.0,802.8 L307.2,801.6 L307.3,800.4 L307.5,799.2 L307.6,798.0 L307.8,796.8 L308.0,795.6 L308.1,794.4 L308.3,793.2 L308.4,792.0 L308.6,790.8 L308.8,789.6 L309.0,788.4 L309.1,787.2 L309.3,786.0 L309.5,784.9 L309.6,783.7 L309.8,782.5 L310.0,781.3 L310.2,780.1 L310.4,778.9 L310.5,777.7 L310.7,776.5 L310.9,775.3 L311.1,774.1 L311.3,772.9 L311.5,771.7 L311.7,770.6 L311.9,769.4 L312.1,768.2 L312.2,767.0 L312.4,765.8 L312.6,764.6 L312.8,763.4 L313.1,762.2 L313.3,761.0 L313.5,759.9 L313.7,758.7 L313.9,757.5 L314.1,756.3 L314.3,755.1 L314.5,753.9 L314.7,752.7 L315.0,751.5 L315.2,750.4 L315.4,749.2 L315.6,748.0 L315.9,746.8 L316.1,745.6 L316.3,744.4 L316.5,743.2 L316.8,742.1 L317.0,740.9 L317.3,739.7 L317.5,738.5 L317.7,737.3 L318.0,736.2 L318.2,735.0 L318.5,733.8 L318.7,732.6 L319.0,731.4 L319.2,730.2 L319.5,729.1 L319.7,727.9 L320.0,726.7 L320.2,725.5 L320.5,724.4 L320.8,723.2 L321.0,722.0 L321.3,720.8 L321.6,719.7 L321.9,718.5 L322.1,717.3 L322.4,716.1 L322.7,715.0 L323.0,713.8 L323.3,712.6 L323.5,711.4 L323.8,710.3 L324.1,709.1 L324.4,707.9 L324.7,706.8 L325.0,705.6 L325.3,704.4 L325.6,703.3 L325.9,702.1 L326.2,700.9 L326.5,699.8 L326.8,698.6 L327.1,697.4 L327.5,696.3 L327.8,695.1 L328.1,693.9 L328.4,692.8 L328.7,691.6 L329.1,690.4 L329.4,689.3 L329.7,688.1 L330.1,687.0 L330.4,685.8 L330.7,684.6 L331.1,683.5 L331.4,682.3 L331.8,681.2 L332.1,680.0 L332.5,678.9 L332.8,677.7 L333.2,676.6 L333.5,675.4 L333.9,674.3 L334.3,673.1 L334.6,672.0 L335.0,670.8 L335.4,669.7 L335.7,668.5 L336.1,667.4 L336.5,666.2 L336.9,665.1 L337.3,664.0 L337.7,662.8 L338.1,661.7 L338.5,660.5 L338.9,659.4 L339.3,658.3 L339.7,657.2 L340.1,656.0 L340.6,654.9 L341.0,653.8 L341.4,652.7 L341.9,651.5 L342.3,650.4 L342.8,649.3 L343.2,648.2 L343.7,647.1 L344.1,646.0 L344.6,644.9 L345.1,643.8 L345.6,642.7 L346.1,641.6 L346.6,640.5 L347.1,639.5 L347.6,638.4 L348.1,637.3 L348.6,636.2 L349.1,635.2 L349.7,634.1 L350.2,633.1 L350.8,632.0 L351.3,630.9 L351.9,629.9 L352.5,628.9 L353.1,627.8 L353.7,626.8 L354.3,625.8 L354.9,624.7 L355.5,623.7 L356.1,622.7 L356.7,621.7 L357.4,620.7 L358.0,619.7 L358.7,618.7 L359.4,617.7 L360.0,616.7 L360.7,615.8 L361.4,614.8 L362.1,613.8 L362.8,612.9 L363.6,611.9 L364.3,611.0 L365.0,610.0 L365.8,609.1 L366.6,608.2 L367.3,607.3 L368.1,606.4 L368.9,605.4 L369.7,604.5 L370.6,603.7 L371.4,602.8 L372.2,601.9 L373.1,601.0 L373.9,600.1 L374.8,599.3 L375.7,598.4 L376.6,597.6 L377.5,596.8 L378.4,595.9 L379.4,595.1 L380.3,594.3 L381.3,593.5 L382.3,592.7 L383.2,591.9" fill="none" stroke="#008000" stroke-width="3.1" stroke-linejoin="round" stroke-linecap="round"/>
<path d="M310.4,778.9 L310.5,777.7 L310.7,776.5 L310.9,775.3 L311.1,774.1 L311.3,772.9 L311.5,771.7 L311.7,770.6 L311.9,769.4 L312.1,768.2 L312.2,767.0 L312.4,765.8 L312.6,764.6 L312.8,763.4 L313.1,762.2 L313.3,761.0 L313.5,759.9 L313.7,758.7 L313.9,757.5 L314.1,756.3 L314.3,755.1 L314.5,753.9 L314.7,752.7 L315.0,751.5 L315.2,750.4 L315.4,749.2 L315.6,748.0 L315.9,746.8 L316.1,745.6 L316.3,744.4 L316.5,743.2 L316.8,742.1 L317.0,740.9 L317.3,739.7 L317.5,738.5 L317.7,737.3 L318.0,736.2 L318.2,735.0 L318.5,733.8 L318.7,732.6 L319.0,731.4 L319.2,730.2 L319.5,729.1 L319.7,727.9 L320.0,726.7 L320.2,725.5 L320.5,724.4 L320.8,723.2 L321.0,722.0 L321.3,720.8 L321.6,719.7 L321.9,718.5 L322.1,717.3 L322.4,716.1 L322.7,715.0 L323.0,713.8 L323.3,712.6 L323.5,711.4 L323.8,710.3 L324.1,709.1 L324.4,707.9 L324.7,706.8 L325.0,705.6 L325.3,704.4 L325.6,703.3 L325.9,702.1 L326.2,700.9 L326.5,699.8 L326.8,698.6 L327.1,697.4 L327.5,696.3 L327.8,695.1 L328.1,693.9 L328.4,692.8 L328.7,691.6 L329.1,690.4 L329.4,689.3 L329.7,688.1 L330.1,687.0 L330.4,685.8 L330.7,684.6 L331.1,683.5 L331.4,682.3 L331.8,681.2 L332.1,680.0 L332.5,678.9 L332.8,677.7 L333.2,676.6 L333.5,675.4 L333.9,674.3 L334.3,673.1 L334.6,672.0 L335.0,670.8 L335.4,669.7 L335.7,668.5 L336.1,667.4 L336.5,666.2 L336.9,665.1 L337.3,664.0 L337.7,662.8 L338.1,661.7 L338.5,660.5 L338.9,659.4 L339.3,658.3 L339.7,657.2 L340.1,656.0 L340.6,654.9 L341.0,653.8 L341.4,652.7 L341.9,651.5 L342.3,650.4 L342.8,649.3 L343.2,648.2 L343.7,647.1 L344.1,646.0 L344.6,644.9 L345.1,643.8 L345.6,642.7 L346.1,641.6 L346.6,640.5 L347.1,639.5 L347.6,638.4 L348.1,637.3 L348.6,636.2 L349.1,635.2 L349.7,634.1 L350.2,633.1 L350.8,632.0 L351.3,630.9 L351.9,629.9 L352.5,628.9 L353.1,627.8 L353.7,626.8 L354.3,625.8 L354.9,624.7 L355.5,623.7 L356.1,622.7 L356.7,621.7 L357.4,620.7 L358.0,619.7 L358.7,618.7 L359.4,617.7 L360.0,616.7 L360.7,615.8 L361.4,614.8 L362.1,613.8 L362.8,612.9 L363.6,611.9 L364.3,611.0 L365.0,610.0 L365.8,609.1 L366.6,608.2 L367.3,607.3 L368.1,606.4 L368.9,605.4 L369.7,604.5 L370.6,603.7 L371.4,602.8 L372.2,601.9 L373.1,601.0 L373.9,600.1 L374.8,599.3 L375.7,598.4 L376.6,597.6 L377.5,596.8 L378.4,595.9 L379.4,595.1 L380.3,594.3 L381.3,593.5 L382.3,592.7 L383.2,591.9" fill="none" stroke="#008000" stroke-width="3.5" stroke-linejoin="round" stroke-linecap="round"/>
<path d="M329.4,689.3 L329.7,688.1 L330.1,687.0 L330.4,685.8 L330.7,684.6 L331.1,683.5 L331.4,682.3 L331.8,681.2 L332.1,680.0 L332.5,678.9 L332.8,677.7 L333.2,676.6 L333.5,675.4 L333.9,674.3 L334.3,673.1 L334.6,672.0 L335.0,670.8 L335.4,669.7 L335.7,668.5 L336.1,667.4 L336.5,666.2 L336.9,665.1 L337.3,664.0 L337.7,662.8 L338.1,661.7 L338.5,660.5 L338.9,659.4 L339.3,658.3 L339.7,657.2 L340.1,656.0 L340.6,654.9 L341.0,653.8 L341.4,652.7 L341.9,651.5 L342.3,650.4 L342.8,649.3 L343.2,648.2 L343.7,647.1 L344.1,646.0 L344.6,644.9 L345.1,643.8 L345.6,642.7 L346.1,641.6 L346.6,640.5 L347.1,639.5 L347.6,638.4 L348.1,637.3 L348.6,636.2 L349.1,635.2 L349.7,634.1 L350.2,633.1 L350.8,632.0 L351.3,630.9 L351.9,629.9 L352.5,628.9 L353.1,627.8 L353.7,626.8 L354.3,625.8 L354.9,624.7 L355.5,623.7 L356.1,622.7 L356.7,621.7 L357.4,620.7 L358.0,619.7 L358.7,618.7 L359.4,617.7 L360.0,616.7 L360.7,615.8 L361.4,614.8 L362.1,613.8 L362.8,612.9 L363.6,611.9 L364.3,611.0 L365.0,610.0 L365.8,609.1 L366.6,608.2 L367.3,607.3 L368.1,606.4 L368.9,605.4 L369.7,604.5 L370.6,603.7 L371.4,602.8 L372.2,601.9 L373.1,601.0 L373.9,600.1 L374.8,599.3 L375.7,598.4 L376.6,597.6 L377.5,596.8 L378.4,595.9 L379.4,595.1 L380.3,594.3 L381.3,593.5 L382.3,592.7 L383.2,591.9" fill="none" stroke="#008000" stroke-width="4.0" stroke-linejoin="round" stroke-linecap="round"/>
<path d="M347.1,639.5 L347.6,638.4 L348.1,637.3 L348.6,636.2 L349.1,635.2 L349.7,634.1 L350.2,633.1 L350.8,632.0 L351.3,630.9 L351.9,629.9 L352.5,628.9 L353.1,627.8 L353.7,626.8 L354.3,625.8 L354.9,624.7 L355.5,623.7 L356.1,622.7 L356.7,621.7 L357.4,620.7 L358.0,619.7 L358.7,618.7 L359.4,617.7 L360.0,616.7 L360.7,615.8 L361.4,614.8 L362.1,613.8 L362.8,612.9 L363.6,611.9 L364.3,611.0 L365.0,610.0 L365.8,609.1 L366.6,608.2 L367.3,607.3 L368.1,606.4 L368.9,605.4 L369.7,604.5 L370.6,603.7 L371.4,602.8 L372.2,601.9 L373.1,601.0 L373.9,600.1 L374.8,599.3 L375.7,598.4 L376.6,597.6 L377.5,596.8 L378.4,595.9 L379.4,595.1 L380.3,594.3 L381.3,593.5 L382.3,592.7 L383.2,591.9" fill="none" stroke="#008000" stroke-width="4.4" stroke-linejoin="round" stroke-linecap="round"/>
<path d="M92.8,985.0 L92.7,986.1 L92.6,987.3 L92.6,988.6 L92.6,989.8 L92.6,991.1 L92.8,992.3 L92.9,993.6 L93.2,994.8 L93.5,996.0 L93.8,997.2 L94.2,998.3 L94.7,999.4 L95.3,1000.4 L96.0,1001.3 L96.7,1002.2 L97.5,1002.9 L98.4,1003.6 L99.4,1004.2 L100.4,1004.7 L101.5,1005.1 L102.6,1005.5 L103.7,1005.8 L104.8,1006.1 L106.0,1006.4 L107.2,1006.7 L108.3,1006.9 L109.5,1007.1 L110.7,1007.2 L111.9,1007.4 L113.1,1007.5 L114.3,1007.6 L115.5,1007.7 L116.7,1007.7 L118.0,1007.8 L119.2,1007.8 L120.4,1007.8 L121.7,1007.8 L122.9,1007.8 L124.1,1007.8 L125.4,1007.7 L126.6,1007.7 L127.9,1007.6 L129.1,1007.5 L130.4,1007.5 L131.6,1007.4 L132.9,1007.3 L134.1,1007.2 L135.4,1007.2 L136.6,1007.1 L137.9,1007.0 L139.1,1006.9 L140.4,1006.8 L141.6,1006.8 L142.9,1006.7 L144.1,1006.6 L145.3,1006.6 L146.6,1006.5 L147.8,1006.5 L149.0,1006.4 L150.3,1006.4 L151.5,1006.3 L152.7,1006.3 L153.9,1006.2 L155.2,1006.2 L156.4,1006.2 L157.6,1006.2 L158.8,1006.1 L160.0,1006.1 L161.2,1006.1 L162.4,1006.1 L163.7,1006.1 L164.9,1006.0 L166.1,1006.0 L167.3,1006.0 L168.5,1006.0 L169.7,1006.0 L170.9,1006.0 L172.1,1006.0 L173.3,1006.0 L174.5,1006.0 L175.7,1006.0 L176.9,1006.0 L178.1,1006.0 L179.3,1006.0 L180.5,1006.0 L181.7,1006.0 L182.9,1006.0 L184.1,1006.0 L185.3,1006.0 L186.5,1006.0 L187.6,1006.0 L188.8,1006.0 L190.0,1006.0 L191.2,1006.1 L192.4,1006.1 L193.6,1006.1 L194.8,1006.1 L196.0,1006.1 L197.2,1006.1 L198.4,1006.1 L199.5,1006.1 L200.7,1006.1 L201.9,1006.1 L203.1,1006.1 L204.3,1006.1 L205.5,1006.1 L206.7,1006.1 L207.9,1006.0 L209.0,1006.0 L210.2,1006.0 L211.4,1006.0 L212.6,1006.0 L213.8,1006.0 L215.0,1005.9 L216.2,1005.9 L217.4,1005.9 L218.5,1005.9 L219.7,1005.8 L220.9,1005.8 L222.1,1005.8 L223.3,1005.7 L224.5,1005.7 L225.7,1005.6 L226.9,1005.6 L228.1,1005.5 L229.3,1005.5 L230.5,1005.4 L231.7,1005.3 L232.9,1005.3 L234.1,1005.2 L235.3,1005.1 L236.5,1005.0 L237.7,1005.0 L238.9,1004.9 L240.1,1004.8 L241.3,1004.7 L242.5,1004.6 L243.7,1004.5 L244.9,1004.4 L246.1,1004.3 L247.4,1004.2 L248.6,1004.1 L249.8,1004.1 L251.0,1004.0 L252.2,1003.9 L253.4,1003.8 L254.7,1003.7 L255.9,1003.6 L257.1,1003.6 L258.3,1003.5 L259.6,1003.4 L260.8,1003.4 L262.0,1003.3 L263.3,1003.3 L264.5,1003.2 L265.7,1003.2 L267.0,1003.1 L268.2,1003.1 L269.5,1003.1 L270.7,1003.1 L271.9,1003.1 L273.2,1003.1 L274.4,1003.0 L275.6,1003.0 L276.8,1002.9 L278.0,1002.7 L279.1,1002.5 L280.2,1002.2 L281.3,1001.8 L282.3,1001.3 L283.3,1000.8 L284.2,1000.2 L285.1,999.5 L285.9,998.7 L286.8,997.9 L287.5,997.0 L288.3,996.1 L289.0,995.2 L289.6,994.2 L290.3,993.2 L290.8,992.1 L291.4,991.0 L291.9,990.0 L292.4,988.9 L292.9,987.8 L293.3,986.7 L293.7,985.6 L294.0,984.4 L294.4,983.3 L294.7,982.1 L295.0,981.0 L295.3,979.8 L295.5,978.7 L295.7,977.5 L295.9,976.3 L296.1,975.1 L296.3,973.9 L296.4,972.7 L296.5,971.5 L296.7,970.3 L296.8,969.1 L296.9,967.9 L296.9,966.6 L297.0,965.4 L297.1,964.2 L297.1,963.0 L297.2,961.7 L297.2,960.5 L297.3,959.3 L297.3,958.1 L297.4,956.8 L297.4,955.6 L297.5,954.4 L297.5,953.2 L297.6,951.9 L297.6,950.7 L297.6,949.5 L297.7,948.3 L297.7,947.1 L297.8,945.8 L297.8,944.6 L297.9,943.4 L297.9,942.2 L298.0,941.0 L298.1,939.8 L298.1,938.5 L298.2,937.3 L298.2,936.1 L298.3,934.9 L298.3,933.7 L298.4,932.5 L298.4,931.3 L298.5,930.1 L298.6,928.9 L298.6,927.7 L298.7,926.5 L298.7,925.3 L298.8,924.1 L298.9,922.9 L298.9,921.7 L299.0,920.5 L299.0,919.3 L299.1,918.1 L299.2,916.9 L299.2,915.7 L299.3,914.5 L299.4,913.3 L299.4,912.1 L299.5,910.9 L299.6,909.7 L299.6,908.5 L299.7,907.3 L299.8,906.1 L299.8,904.9 L299.9,903.7 L300.0,902.5 L300.0,901.3 L300.1,900.1 L300.2,898.9 L300.3,897.7 L300.3,896.5 L300.4,895.3 L300.5,894.2 L300.5,893.0 L300.6,891.8 L300.7,890.6 L300.8,889.4 L300.8,888.2 L300.9,887.0 L301.0,885.8 L301.1,884.6 L301.1,883.4 L301.2,882.2 L301.3,881.0 L301.4,879.8 L301.4,878.6 L301.5,877.4 L301.6,876.2 L301.7,875.0 L301.7,873.8 L301.8,872.6 L301.9,871.5 L302.0,870.3 L302.0,869.1 L302.1,867.9 L302.2,866.7 L302.3,865.5 L302.4,864.3 L302.4,863.1 L302.5,861.9 L302.6,860.7 L302.7,859.5 L302.8,858.3 L302.8,857.1 L302.9,855.9 L303.0,854.7 L303.1,853.5 L303.2,852.3 L303.3,851.1 L303.3,849.9 L303.4,848.7 L303.5,847.5 L303.6,846.3 L303.7,845.1 L303.8,843.9 L303.8,842.7 L303.9,841.5 L304.0,840.3 L304.1,839.1 L304.2,837.9 L304.3,836.7 L304.4,835.5 L304.5,834.3 L304.6,833.1 L304.7,831.9 L304.7,830.7 L304.8,829.5 L304.9,828.3 L305.0,827.1 L305.1,825.9 L305.2,824.7 L305.3,823.5 L305.4,822.3 L305.5,821.1 L305.6,819.9 L305.7,818.7 L305.8,817.5 L305.9,816.3 L306.0,815.1 L306.1,813.9 L306.2,812.7 L306.3,811.5 L306.4,810.3 L306.5,809.1 L306.6,807.9 L306.7,806.7 L306.8,805.5 L306.9,804.3 L307.0,803.1 L307.1,801.9 L307.2,800.7 L307.3,799.5 L307.5,798.3 L307.6,797.1 L307.7,795.9 L307.8,794.7 L307.9,793.5 L308.0,792.3 L308.1,791.1 L308.2,789.9 L308.4,788.7 L308.5,787.5 L308.6,786.3 L308.7,785.1 L308.8,783.9 L309.0,782.7 L309.1,781.5 L309.2,780.3 L309.3,779.1 L309.4,777.9 L309.6,776.7 L309.7,775.5 L309.8,774.3 L310.0,773.1 L310.1,771.9 L310.2,770.7 L310.3,769.5 L310.5,768.3 L310.6,767.1 L310.7,765.9 L310.9,764.7 L311.0,763.5 L311.1,762.3 L311.3,761.1 L311.4,759.9 L311.6,758.7 L311.7,757.5 L311.8,756.3 L312.0,755.1 L312.1,753.9 L312.3,752.7 L312.4,751.5 L312.6,750.3 L312.7,749.1 L312.9,747.9 L313.0,746.7 L313.2,745.5 L313.3,744.3 L313.5,743.1 L313.6,742.0 L313.8,740.8 L313.9,739.6 L314.1,738.4 L314.3,737.2 L314.4,736.0 L314.6,734.8 L314.7,733.6 L314.9,732.4 L315.1,731.2 L315.2,730.0 L315.4,728.8 L315.6,727.6 L315.7,726.4 L315.9,725.3 L316.1,724.1 L316.3,722.9 L316.4,721.7 L316.6,720.5 L316.8,719.3 L317.0,718.1 L317.1,716.9 L317.3,715.7 L317.5,714.5 L317.7,713.4 L317.9,712.2 L318.1,711.0 L318.3,709.8 L318.4,708.6 L318.6,707.4 L318.8,706.2 L319.0,705.1 L319.2,703.9 L319.4,702.7 L319.6,701.5 L319.8,700.3 L320.0,699.1 L320.2,697.9 L320.4,696.8 L320.6,695.6 L320.8,694.4 L321.0,693.2 L321.2,692.0 L321.5,690.9 L321.7,689.7 L321.9,688.5 L322.1,687.3 L322.3,686.1 L322.5,685.0 L322.8,683.8 L323.0,682.6 L323.2,681.4 L323.4,680.2 L323.7,679.1 L323.9,677.9 L324.1,676.7 L324.4,675.5 L324.6,674.4 L324.9,673.2 L325.1,672.0 L325.4,670.8 L325.6,669.7 L325.9,668.5 L326.1,667.3 L326.4,666.2 L326.6,665.0 L326.9,663.8 L327.2,662.7 L327.4,661.5 L327.7,660.3 L328.0,659.2 L328.3,658.0 L328.5,656.8 L328.8,655.7 L329.1,654.5 L329.4,653.3 L329.7,652.2 L330.0,651.0 L330.3,649.9 L330.6,648.7 L330.9,647.5 L331.2,646.4 L331.5,645.2 L331.9,644.1 L332.2,642.9 L332.5,641.8 L332.8,640.6 L333.2,639.5 L333.5,638.3 L333.8,637.2 L334.2,636.0 L334.5,634.9 L334.9,633.7 L335.2,632.6 L335.6,631.4 L336.0,630.3 L336.3,629.1 L336.7,628.0 L337.1,626.9 L337.5,625.7 L337.9,624.6 L338.3,623.4 L338.6,622.3 L339.0,621.2 L339.4,620.0 L339.9,618.9 L340.3,617.8 L340.7,616.6 L341.1,615.5 L341.5,614.4 L342.0,613.2 L342.4,612.1 L342.8,611.0 L343.3,609.9 L343.7,608.7 L344.2,607.6 L344.7,606.5 L345.1,605.4 L345.6,604.3 L346.1,603.1 L346.6,602.0 L347.0,600.9 L347.5,599.8 L348.0,598.7 L348.5,597.6 L349.1,596.5 L349.6,595.3 L350.1,594.2 L350.6,593.1" fill="none" stroke="#00ffff" stroke-width="3.4" stroke-linejoin="round" stroke-linecap="round"/>
<path d="M93.5,913.7 L93.6,914.9 L93.7,916.1 L93.8,917.4 L93.9,918.6 L94.0,919.8 L94.1,921.0 L94.2,922.2 L94.3,923.4 L94.4,924.6 L94.5,925.8 L94.6,927.0 L94.7,928.2 L94.8,929.3 L94.9,930.5 L95.0,931.7 L95.1,932.9 L95.2,934.1 L95.3,935.3 L95.5,936.5 L95.6,937.7 L95.7,938.9 L95.9,940.1 L96.0,941.3 L96.2,942.5 L96.3,943.7 L96.5,945.0 L96.7,946.2 L96.9,947.4 L97.1,948.6 L97.4,949.8 L97.7,951.0 L98.2,952.1 L98.7,953.1 L99.4,954.1 L100.3,954.9 L101.2,955.6 L102.3,956.1 L103.4,956.5 L104.6,956.9 L105.8,957.1 L106.9,957.3 L108.1,957.4 L109.3,957.4 L110.5,957.4 L111.8,957.4 L113.0,957.3 L114.2,957.2 L115.4,957.1 L116.6,956.9 L117.8,956.7 L119.0,956.4 L120.3,956.2 L121.5,955.9 L122.7,955.7 L123.9,955.4 L125.1,955.2 L126.4,954.9 L127.6,954.7 L128.8,954.4 L130.0,954.2 L131.2,954.0 L132.4,953.8 L133.6,953.7 L134.8,953.5 L136.0,953.4 L137.2,953.2 L138.4,953.1 L139.6,953.0 L140.8,952.9 L142.0,952.8 L143.2,952.7 L144.4,952.6 L145.6,952.5 L146.8,952.4 L148.0,952.3 L149.1,952.3 L150.3,952.2 L151.5,952.2 L152.7,952.1 L153.9,952.0 L155.1,952.0 L156.3,951.9 L157.5,951.8 L158.7,951.8 L159.9,951.7 L161.1,951.7 L162.3,951.6 L163.5,951.5 L164.7,951.4 L165.9,951.4 L167.1,951.3 L168.3,951.2 L169.5,951.1 L170.7,951.1 L171.9,951.0 L173.2,950.9 L174.4,950.8 L175.6,950.7 L176.8,950.6 L178.0,950.5 L179.2,950.4 L180.4,950.3 L181.6,950.2 L182.8,950.2 L184.0,950.1 L185.3,950.0 L186.5,949.9 L187.7,949.7 L188.9,949.6 L190.1,949.5 L191.3,949.4 L192.5,949.3 L193.7,949.2 L194.9,949.1 L196.1,949.0 L197.4,948.9 L198.6,948.8 L199.8,948.6 L201.0,948.5 L202.2,948.4 L203.4,948.3 L204.6,948.2 L205.8,948.0 L207.0,947.9 L208.2,947.8 L209.4,947.7 L210.6,947.5 L211.8,947.4 L213.0,947.3 L214.2,947.1 L215.4,947.0 L216.6,946.9 L217.8,946.7 L219.0,946.6 L220.2,946.4 L221.4,946.3 L222.6,946.2 L223.7,946.0 L224.9,945.9 L226.1,945.7 L227.3,945.6 L228.5,945.5 L229.7,945.3 L230.9,945.2 L232.1,945.0 L233.2,944.9 L234.4,944.7 L235.6,944.6 L236.8,944.4 L238.0,944.3 L239.2,944.2 L240.4,944.0 L241.5,943.9 L242.7,943.7 L243.9,943.6 L245.1,943.4 L246.3,943.3 L247.5,943.2 L248.7,943.0 L249.9,942.9 L251.1,942.7 L252.3,942.6 L253.5,942.5 L254.7,942.3 L255.9,942.2 L257.1,942.1 L258.3,941.9 L259.5,941.8 L260.7,941.7 L261.9,941.5 L263.1,941.4 L264.3,941.3 L265.5,941.2 L266.7,941.0 L267.9,940.9 L269.1,940.8 L270.4,940.7 L271.6,940.6 L272.8,940.5 L274.0,940.4 L275.3,940.2 L276.5,940.1 L277.7,940.0 L279.0,939.9 L280.2,939.8 L281.5,939.7 L282.7,939.7 L283.9,939.6 L285.2,939.5 L286.4,939.4 L287.7,939.3 L288.9,939.1 L290.1,939.0 L291.3,938.8 L292.5,938.6 L293.7,938.4 L294.8,938.1 L295.9,937.8 L297.0,937.4 L298.0,936.9 L299.0,936.4 L300.0,935.9 L300.9,935.2 L301.8,934.5 L302.6,933.7 L303.4,932.9 L304.1,931.9 L304.8,930.9 L305.4,929.9 L306.0,928.8 L306.6,927.7 L307.1,926.5 L307.6,925.3 L308.0,924.1 L308.5,922.9 L308.9,921.7 L309.2,920.5 L309.6,919.3 L309.9,918.1 L310.3,916.9 L310.6,915.7 L310.8,914.6 L311.1,913.5 L311.4,912.3 L311.7,911.2 L311.9,910.1 L312.2,909.0 L312.5,907.9 L312.7,906.8 L313.0,905.6 L313.3,904.4 L313.7,903.2 L314.0,901.9" fill="none" stroke="#0000ff" stroke-width="3.4" stroke-linejoin="round" stroke-linecap="round"/>
<path d="M93.9,768.8 L93.9,770.1 L93.9,771.4 L93.9,772.7 L94.0,774.0 L94.1,775.2 L94.1,776.5 L94.2,777.7 L94.3,778.9 L94.5,780.1 L94.6,781.2 L94.7,782.4 L94.9,783.6 L95.0,784.7 L95.2,785.9 L95.4,787.0 L95.5,788.1 L95.7,789.3 L95.9,790.4 L96.0,791.5 L96.2,792.6 L96.4,793.8 L96.5,794.9 L96.7,796.0 L96.8,797.2 L97.0,798.3 L97.1,799.5 L97.2,800.7 L97.4,801.9 L97.5,803.1 L97.5,804.3 L97.6,805.5 L97.7,806.7 L97.7,808.0 L97.7,809.3 L97.7,810.6 L97.7,811.9 L97.7,813.2 L97.6,814.6 L97.6,816.0 L97.5,817.4 L97.4,818.7 L97.4,820.1 L97.5,821.4 L97.5,822.7 L97.7,823.9 L97.9,825.1 L98.2,826.2 L98.7,827.3 L99.2,828.2 L99.9,829.1 L100.7,829.8 L101.6,830.5 L102.7,831.0 L103.8,831.3 L105.0,831.6 L106.2,831.7 L107.4,831.6 L108.7,831.5 L109.9,831.4 L111.2,831.1 L112.5,830.9 L113.7,830.6 L114.9,830.3 L116.1,829.9 L117.3,829.6 L118.5,829.3 L119.6,828.9 L120.8,828.6 L121.9,828.3 L123.0,828.0 L124.1,827.7 L125.3,827.4 L126.4,827.1 L127.5,826.8 L128.7,826.6 L129.8,826.4 L131.0,826.2 L132.1,826.1 L133.3,826.0 L134.5,825.9 L135.7,825.8 L136.9,825.7 L138.1,825.7 L139.3,825.7 L140.5,825.6 L141.7,825.6 L142.9,825.6 L144.2,825.6 L145.4,825.6 L146.6,825.5 L147.8,825.5 L149.0,825.4 L150.3,825.3 L151.5,825.2 L152.7,825.1 L153.9,824.9 L155.0,824.7 L156.2,824.5 L157.4,824.3 L158.5,824.0 L159.7,823.6 L160.8,823.3 L162.0,822.9 L163.1,822.4 L164.2,822.0 L165.3,821.5 L166.4,821.0 L167.5,820.6 L168.6,820.1 L169.7,819.6 L170.9,819.1 L172.0,818.6 L173.1,818.1 L174.2,817.6 L175.3,817.1 L176.4,816.7 L177.6,816.2 L178.7,815.8 L179.9,815.5 L181.0,815.1 L182.2,814.8 L183.4,814.5 L184.6,814.3 L185.8,814.1 L187.0,814.0 L188.2,813.8 L189.4,813.7 L190.6,813.6 L191.9,813.5 L193.1,813.4 L194.3,813.3 L195.5,813.1 L196.7,812.9 L197.9,812.7 L199.0,812.4 L200.1,812.1 L201.2,811.7 L202.3,811.3 L203.4,810.7 L204.4,810.1 L205.4,809.5 L206.4,808.8 L207.4,808.1 L208.4,807.3 L209.3,806.6 L210.3,805.8 L211.2,805.0 L212.2,804.3 L213.2,803.5 L214.2,802.8 L215.2,802.2 L216.2,801.5 L217.3,801.0 L218.3,800.4 L219.4,799.9 L220.5,799.4 L221.6,798.9 L222.7,798.5 L223.8,798.0 L224.9,797.6 L226.0,797.1 L227.2,796.7 L228.3,796.2 L229.4,795.7 L230.5,795.2 L231.6,794.7 L232.7,794.2 L233.8,793.7 L234.9,793.1 L235.9,792.6 L237.0,792.0 L238.1,791.5 L239.2,790.9 L240.3,790.4 L241.3,789.8 L242.4,789.2 L243.5,788.6 L244.6,788.1 L245.6,787.5 L246.7,786.9 L247.7,786.3 L248.8,785.7 L249.9,785.1 L250.9,784.6 L252.0,784.0 L253.0,783.4 L254.1,782.9 L255.1,782.3 L256.2,781.7 L257.2,781.2 L258.3,780.7 L259.4,780.2 L260.4,779.7 L261.5,779.2 L262.6,778.8 L263.7,778.4 L264.8,778.1 L265.9,777.8 L267.0,777.6 L268.2,777.4 L269.4,777.3 L270.6,777.3 L271.8,777.3 L273.0,777.4 L274.3,777.6 L275.6,777.8 L276.9,778.0 L278.1,778.1 L279.3,778.1 L280.5,778.0 L281.6,777.6 L282.5,777.1 L283.3,776.5 L284.1,775.7 L284.7,774.8 L285.2,773.7 L285.6,772.6 L286.0,771.4 L286.3,770.2 L286.6,768.9 L286.9,767.6 L287.1,766.4 L287.4,765.1 L287.7,763.9 L288.0,762.7 L288.2,761.5 L288.5,760.3 L288.8,759.1 L289.1,757.9 L289.3,756.8 L289.6,755.6 L289.9,754.5 L290.1,753.3 L290.4,752.1 L290.6,751.0 L290.9,749.8 L291.1,748.7 L291.4,747.5 L291.6,746.3 L291.8,745.1 L292.0,744.0 L292.3,742.8 L292.5,741.6 L292.7,740.5 L292.9,739.3 L293.1,738.1 L293.3,736.9 L293.5,735.7 L293.6,734.6 L293.8,733.4 L294.0,732.2 L294.2,731.0 L294.3,729.8 L294.5,728.6 L294.7,727.4 L294.8,726.2 L295.0,725.1 L295.1,723.9 L295.3,722.7 L295.4,721.5 L295.6,720.3 L295.7,719.1 L295.9,717.9 L296.0,716.7 L296.1,715.5 L296.3,714.3 L296.4,713.1 L296.5,711.9 L296.7,710.7 L296.8,709.5 L296.9,708.3 L297.0,707.1 L297.2,705.9 L297.3,704.7 L297.4,703.5 L297.5,702.3 L297.6,701.1 L297.8,699.8 L297.9,698.6 L298.0,697.4 L298.1,696.2 L298.2,695.0 L298.3,693.8 L298.5,692.6 L298.6,691.4 L298.7,690.2 L298.8,689.0 L298.9,687.8 L299.1,686.6 L299.2,685.4 L299.3,684.2 L299.4,683.0 L299.5,681.8 L299.7,680.6 L299.8,679.4 L299.9,678.2 L300.0,677.0 L300.2,675.8 L300.3,674.6 L300.4,673.4 L300.6,672.2 L300.7,671.0 L300.8,669.8 L301.0,668.6 L301.1,667.4 L301.2,666.2 L301.4,665.0 L301.5,663.8 L301.7,662.6 L301.8,661.4 L301.9,660.2 L302.1,659.0 L302.2,657.8 L302.4,656.6 L302.5,655.4 L302.7,654.2 L302.8,653.0 L303.0,651.8 L303.1,650.7 L303.3,649.5 L303.4,648.3 L303.6,647.1 L303.7,645.9 L303.9,644.7 L304.0,643.5 L304.2,642.3 L304.3,641.1 L304.5,639.9 L304.6,638.7 L304.8,637.5 L304.9,636.3 L305.1,635.2 L305.2,634.0 L305.4,632.8 L305.5,631.6 L305.7,630.4 L305.8,629.2 L305.9,628.0 L306.1,626.8 L306.2,625.6 L306.4,624.4 L306.5,623.2 L306.6,622.0 L306.8,620.8 L306.9,619.6 L307.1,618.4 L307.2,617.2 L307.3,616.0 L307.5,614.8 L307.6,613.6 L307.7,612.4 L307.8,611.2 L308.0,610.1 L308.1,608.9 L308.2,607.6 L308.3,606.4 L308.4,605.2 L308.5,604.0 L308.7,602.8 L308.8,601.6 L308.9,600.4 L309.0,599.2 L309.1,598.0 L309.2,596.8 L309.3,595.6 L309.4,594.4 L309.5,593.2 L309.5,592.0" fill="none" stroke="#000" stroke-width="3.4" stroke-linejoin="round" stroke-linecap="round"/>
<path d="M95.0,871.6 L95.3,872.5 L95.5,873.4 L95.7,874.4 L95.8,875.5 L95.9,876.6 L95.9,877.8 L96.0,879.0 L96.0,880.3 L96.0,881.6 L96.0,882.9 L96.0,884.2 L95.9,885.5 L96.0,886.9 L96.0,888.2 L96.0,889.6 L96.1,890.9 L96.2,892.2 L96.3,893.5 L96.5,894.8 L96.8,896.0 L97.1,897.2 L97.5,898.3 L97.9,899.4 L98.4,900.4 L99.0,901.4 L99.7,902.3 L100.4,903.2 L101.2,903.9 L102.1,904.6 L103.0,905.3 L104.0,905.9 L105.0,906.4 L106.1,906.9 L107.2,907.3 L108.3,907.7 L109.4,907.9 L110.6,908.2 L111.8,908.4 L113.0,908.5 L114.2,908.6 L115.4,908.6 L116.6,908.6 L117.9,908.6 L119.1,908.5 L120.3,908.4 L121.6,908.2 L122.9,908.0 L124.1,907.8 L125.4,907.6 L126.6,907.4 L127.9,907.1 L129.2,906.9 L130.5,906.6 L131.7,906.3 L133.0,906.1 L134.2,905.8 L135.5,905.5 L136.7,905.3 L138.0,905.1 L139.2,904.8 L140.4,904.6 L141.7,904.4 L142.9,904.2 L144.1,903.9 L145.3,903.7 L146.5,903.6 L147.7,903.4 L148.9,903.2 L150.1,903.0 L151.3,902.8 L152.5,902.7 L153.7,902.5 L154.9,902.3 L156.0,902.2 L157.2,902.0 L158.4,901.9 L159.5,901.7 L160.7,901.6 L161.9,901.4 L163.0,901.3 L164.2,901.1 L165.4,901.0 L166.5,900.9 L167.7,900.7 L168.8,900.6 L170.0,900.4 L171.2,900.3 L172.3,900.2 L173.5,900.0 L174.6,899.9 L175.8,899.7 L176.9,899.6 L178.1,899.4 L179.3,899.3 L180.4,899.1 L181.6,898.9 L182.7,898.8 L183.9,898.6 L185.1,898.4 L186.2,898.3 L187.4,898.1 L188.6,897.9 L189.7,897.7 L190.9,897.5 L192.1,897.3 L193.2,897.2 L194.4,897.0 L195.6,896.8 L196.8,896.5 L197.9,896.3 L199.1,896.1 L200.3,895.9 L201.5,895.7 L202.6,895.5 L203.8,895.2 L205.0,895.0 L206.2,894.8 L207.4,894.5 L208.5,894.3 L209.7,894.0 L210.9,893.8 L212.1,893.5 L213.3,893.2 L214.4,893.0 L215.6,892.7 L216.8,892.4 L218.0,892.1 L219.2,891.9 L220.4,891.6 L221.6,891.3 L222.7,891.0 L223.9,890.7 L225.1,890.4 L226.3,890.1 L227.5,889.8 L228.7,889.4 L229.9,889.1 L231.1,888.8 L232.3,888.4 L233.4,888.1 L234.6,887.8 L235.8,887.4 L237.0,887.1 L238.2,886.7 L239.4,886.3 L240.6,886.0 L241.8,885.6 L243.0,885.2 L244.2,884.8 L245.3,884.4 L246.5,884.0 L247.7,883.6 L248.9,883.2 L250.1,882.8 L251.2,882.4 L252.3,881.9 L253.5,881.4 L254.6,880.9 L255.6,880.4 L256.6,879.8 L257.6,879.2 L258.6,878.6 L259.5,877.9 L260.4,877.2 L261.2,876.5 L262.0,875.7 L262.7,874.9 L263.4,874.1 L264.0,873.2 L264.7,872.3 L265.2,871.4 L265.8,870.4 L266.3,869.4 L266.8,868.4 L267.3,867.3 L267.7,866.3 L268.1,865.2 L268.5,864.1 L268.8,863.0 L269.2,861.8 L269.5,860.7 L269.8,859.5 L270.1,858.3 L270.3,857.1 L270.6,855.9 L270.8,854.7 L271.0,853.5 L271.3,852.3 L271.5,851.0 L271.7,849.8 L271.9,848.6 L272.1,847.3 L272.3,846.1 L272.5,844.9 L272.7,843.7 L272.9,842.4 L273.1,841.2 L273.3,840.0 L273.4,838.8 L273.6,837.5 L273.8,836.3 L274.0,835.1 L274.2,833.9 L274.4,832.7 L274.6,831.5 L274.8,830.2 L275.0,829.0 L275.2,827.8 L275.3,826.6 L275.5,825.4 L275.7,824.2 L275.9,823.0 L276.1,821.8 L276.2,820.6 L276.4,819.4 L276.6,818.2 L276.8,817.0 L277.0,815.8 L277.1,814.6 L277.3,813.4 L277.5,812.2 L277.7,811.0 L277.8,809.8 L278.0,808.6 L278.2,807.4 L278.4,806.2 L278.5,805.0 L278.7,803.8 L278.9,802.7 L279.0,801.5 L279.2,800.3 L279.4,799.1 L279.5,797.9 L279.7,796.7 L279.9,795.5 L280.0,794.3 L280.2,793.2 L280.3,792.0 L280.5,790.8 L280.7,789.6 L280.8,788.4 L281.0,787.2 L281.1,786.1 L281.3,784.9 L281.4,783.7 L281.6,782.5 L281.8,781.3 L281.9,780.1 L282.1,779.0 L282.2,777.8 L282.4,776.6 L282.5,775.4 L282.7,774.2 L282.8,773.1 L283.0,771.9 L283.1,770.7 L283.3,769.5 L283.4,768.3 L283.5,767.1 L283.7,766.0 L283.8,764.8 L284.0,763.6 L284.1,762.4 L284.3,761.2 L284.4,760.0 L284.5,758.9 L284.7,757.7 L284.8,756.5 L285.0,755.3 L285.1,754.1 L285.2,752.9 L285.4,751.8 L285.5,750.6 L285.6,749.4 L285.8,748.2 L285.9,747.0 L286.0,745.8 L286.2,744.6 L286.3,743.4 L286.4,742.2 L286.5,741.1 L286.7,739.9 L286.8,738.7 L286.9,737.5 L287.0,736.3 L287.2,735.1 L287.3,733.9 L287.4,732.7 L287.5,731.5 L287.7,730.3 L287.8,729.1 L287.9,727.9 L288.0,726.7 L288.2,725.5 L288.3,724.3 L288.4,723.1 L288.5,721.9 L288.7,720.7 L288.8,719.5 L288.9,718.3 L289.0,717.1 L289.1,715.9 L289.3,714.7 L289.4,713.5 L289.5,712.3 L289.6,711.1 L289.7,709.9 L289.9,708.7 L290.0,707.5 L290.1,706.3 L290.2,705.1 L290.4,703.9 L290.5,702.7 L290.6,701.5 L290.7,700.3 L290.8,699.1 L291.0,697.9 L291.1,696.7 L291.2,695.5 L291.3,694.3 L291.5,693.1 L291.6,691.9 L291.7,690.7 L291.9,689.5 L292.0,688.3 L292.1,687.1 L292.2,685.9 L292.4,684.7 L292.5,683.5 L292.6,682.3 L292.8,681.1 L292.9,679.9 L293.0,678.7 L293.2,677.5 L293.3,676.3 L293.4,675.1 L293.6,673.9 L293.7,672.7 L293.8,671.5 L294.0,670.3 L294.1,669.1 L294.3,667.9 L294.4,666.7 L294.5,665.5 L294.7,664.3 L294.8,663.1 L295.0,661.9 L295.1,660.7 L295.3,659.5 L295.4,658.3 L295.6,657.1 L295.7,655.9 L295.9,654.7 L296.0,653.5 L296.2,652.3 L296.4,651.1 L296.5,649.9 L296.7,648.7 L296.8,647.5 L297.0,646.3 L297.2,645.1 L297.3,643.9 L297.5,642.7 L297.7,641.5 L297.9,640.3 L298.0,639.2 L298.2,638.0 L298.4,636.8 L298.6,635.6 L298.7,634.4 L298.9,633.2 L299.1,632.0 L299.3,630.8 L299.5,629.6 L299.7,628.5 L299.9,627.3 L300.1,626.1 L300.3,624.9 L300.5,623.7 L300.7,622.5 L300.9,621.4 L301.1,620.2 L301.3,619.0 L301.5,617.8 L301.7,616.6 L301.9,615.5 L302.1,614.3 L302.3,613.1 L302.6,611.9 L302.8,610.7 L303.0,609.6 L303.2,608.4 L303.5,607.2 L303.7,606.1 L303.9,604.9 L304.2,603.7 L304.4,602.5 L304.6,601.4 L304.9,600.2 L305.1,599.0 L305.4,597.9 L305.6,596.7 L305.9,595.5 L306.1,594.4 L306.4,593.2 L306.7,592.1" fill="none" stroke="#00ff00" stroke-width="3.4" stroke-linejoin="round" stroke-linecap="round"/>
<path d="M93.2,829.5 L94.2,852.8 L95,872" stroke="#00ff00" stroke-width="3" fill="none" stroke-dasharray="3 1.6"/>
<rect x="91.3" y="786.9" width="3.4" height="3.4" fill="#00ff00"/>
<rect x="91.3" y="821.1999999999999" width="3.4" height="3.4" fill="#00ff00"/>
<rect x="91.1" y="874.6" width="3" height="3" fill="#0000ff"/>
<rect x="91.3" y="970.5" width="3" height="3" fill="#00ffff"/>
<rect x="91.3" y="975.9" width="3" height="3" fill="#008000"/>
<rect x="91.5" y="774.5" width="3" height="3" fill="#000"/>
<rect x="91.5" y="780.5" width="3" height="3" fill="#000"/>
<rect x="91.5" y="803.5" width="3" height="3" fill="#000"/>
<rect x="91.5" y="816.5" width="3" height="3" fill="#000"/>
</g>
<line x1="266.2" y1="1009.2" x2="266.2" y2="1025.5" stroke="#00ff00" stroke-width="2"/>
<path d="M263.7,1024.5 L268.7,1024.5 L266.2,1029.5 Z" fill="#00ff00"/>
<line x1="276.1" y1="1009.2" x2="276.1" y2="1025.5" stroke="#008000" stroke-width="2"/>
<path d="M273.6,1024.5 L278.6,1024.5 L276.1,1029.5 Z" fill="#008000"/>
<line x1="280.8" y1="1009.2" x2="280.8" y2="1025.5" stroke="#000" stroke-width="2"/>
<path d="M278.3,1024.5 L283.3,1024.5 L280.8,1029.5 Z" fill="#000"/>
<line x1="288.9" y1="1009.2" x2="288.9" y2="1025.5" stroke="#00ffff" stroke-width="2"/>
<path d="M286.4,1024.5 L291.4,1024.5 L288.9,1029.5 Z" fill="#00ffff"/>
<line x1="305.9" y1="1009.2" x2="305.9" y2="1025.5" stroke="#0000ff" stroke-width="2"/>
<path d="M303.4,1024.5 L308.4,1024.5 L305.9,1029.5 Z" fill="#0000ff"/>
<text x="413.8" y="636.1" font-size="28.5" text-anchor="start" textLength="239.5" lengthAdjust="spacingAndGlyphs" >Surfactant, 40° C</text>
<rect x="504.5" y="866.3" width="152.89999999999998" height="149.0" fill="#fff" stroke="#777" stroke-width="1.3"/>
<text x="509.5" y="884.7" font-size="18.5" text-anchor="start" textLength="142" lengthAdjust="spacingAndGlyphs" >Pore Diameter:</text>
<line x1="510" y1="887.8" x2="649.5" y2="887.8" stroke="#333" stroke-width="1.8"/>
<rect x="529.4" y="898.6" width="10" height="10" fill="#000"/>
<text x="624.3" y="910.2" font-size="21" text-anchor="end" textLength="67.4" lengthAdjust="spacingAndGlyphs" >140 nm</text>
<rect x="529.4" y="923.9" width="10" height="10" fill="#00ff00"/>
<text x="624.3" y="935.5" font-size="21" text-anchor="end" textLength="67.4" lengthAdjust="spacingAndGlyphs" >100 nm</text>
<rect x="529.4" y="949.2" width="10" height="10" fill="#0000ff"/>
<text x="624.3" y="960.8" font-size="21" text-anchor="end" textLength="56.1" lengthAdjust="spacingAndGlyphs" >80 nm</text>
<rect x="529.4" y="974.5" width="10" height="10" fill="#00ffff"/>
<text x="624.3" y="986.1" font-size="21" text-anchor="end" textLength="56.1" lengthAdjust="spacingAndGlyphs" >60 nm</text>
<rect x="529.4" y="999.8" width="10" height="10" fill="#008000"/>
<text x="624.3" y="1011.4" font-size="21" text-anchor="end" textLength="56.1" lengthAdjust="spacingAndGlyphs" >30 nm</text>
<text font-size="28.5" transform="translate(0.9,591.8) scale(0.93,1)">b</text>
<text font-size="26.5" transform="translate(18.7,590.6) scale(0.85,1)">)</text>
</svg>
</body></html>
